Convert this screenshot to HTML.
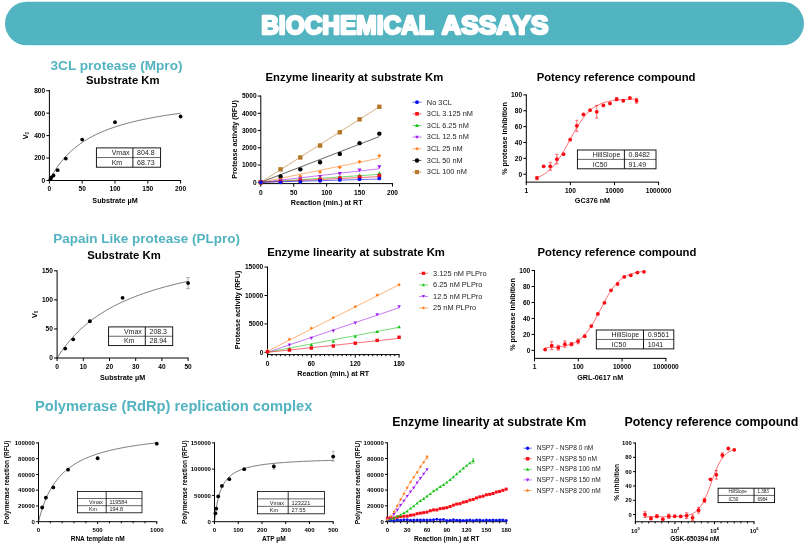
<!DOCTYPE html>
<html><head><meta charset="utf-8"><title>Biochemical assays</title>
<style>html,body{margin:0;padding:0;background:#fff}svg{display:block}text{font-family:"Liberation Sans", Arial, sans-serif}</style></head><body>
<svg width="808" height="549" viewBox="0 0 808 549">
<rect width="808" height="549" fill="#fff"/>
<rect x="5" y="1.7" width="799" height="43.6" rx="21.8" ry="21.8" fill="#52b3c1"/>
<text x="261.2" y="33.5" font-size="25.6" font-weight="bold" text-anchor="start" fill="#fff" stroke="#fff" stroke-width="2.4" stroke-linejoin="round" lengthAdjust="spacingAndGlyphs" textLength="172.6">BIOCHEMICAL</text>
<text x="441.8" y="33.5" font-size="25.6" font-weight="bold" text-anchor="start" fill="#fff" stroke="#fff" stroke-width="2.4" stroke-linejoin="round" lengthAdjust="spacingAndGlyphs" textLength="106.6">ASSAYS</text>
<text x="116.5" y="70.4" font-size="13.6" font-weight="bold" text-anchor="middle" fill="#52b3c1" >3CL protease (Mpro)</text>
<text x="146.7" y="242.7" font-size="13.5" font-weight="bold" text-anchor="middle" fill="#52b3c1" >Papain Like protease (PLpro)</text>
<text x="173.7" y="410.8" font-size="14.7" font-weight="bold" text-anchor="middle" fill="#52b3c1" >Polymerase (RdRp) replication complex</text>
<text x="122.8" y="83.8" font-size="11.3" font-weight="bold" text-anchor="middle" fill="#000" >Substrate Km</text>
<line x1="49.4" y1="90.2" x2="49.4" y2="181" stroke="#000" stroke-width="1.0" />
<line x1="48.9" y1="180.5" x2="181.1" y2="180.5" stroke="#000" stroke-width="1.0" />
<line x1="49.4" y1="180.5" x2="49.4" y2="183.5" stroke="#000" stroke-width="1.0" />
<text x="49.4" y="191.4" font-size="6.6" font-weight="bold" text-anchor="middle" fill="#000" >0</text>
<line x1="82.2" y1="180.5" x2="82.2" y2="183.5" stroke="#000" stroke-width="1.0" />
<text x="82.2" y="191.4" font-size="6.6" font-weight="bold" text-anchor="middle" fill="#000" >50</text>
<line x1="115" y1="180.5" x2="115" y2="183.5" stroke="#000" stroke-width="1.0" />
<text x="115" y="191.4" font-size="6.6" font-weight="bold" text-anchor="middle" fill="#000" >100</text>
<line x1="147.8" y1="180.5" x2="147.8" y2="183.5" stroke="#000" stroke-width="1.0" />
<text x="147.8" y="191.4" font-size="6.6" font-weight="bold" text-anchor="middle" fill="#000" >150</text>
<line x1="180.6" y1="180.5" x2="180.6" y2="183.5" stroke="#000" stroke-width="1.0" />
<text x="180.6" y="191.4" font-size="6.6" font-weight="bold" text-anchor="middle" fill="#000" >200</text>
<line x1="46.4" y1="180.5" x2="49.4" y2="180.5" stroke="#000" stroke-width="1.0" />
<text x="45.2" y="182.88" font-size="6.6" font-weight="bold" text-anchor="end" fill="#000" >0</text>
<line x1="46.4" y1="158.05" x2="49.4" y2="158.05" stroke="#000" stroke-width="1.0" />
<text x="45.2" y="160.43" font-size="6.6" font-weight="bold" text-anchor="end" fill="#000" >200</text>
<line x1="46.4" y1="135.6" x2="49.4" y2="135.6" stroke="#000" stroke-width="1.0" />
<text x="45.2" y="137.98" font-size="6.6" font-weight="bold" text-anchor="end" fill="#000" >400</text>
<line x1="46.4" y1="113.15" x2="49.4" y2="113.15" stroke="#000" stroke-width="1.0" />
<text x="45.2" y="115.53" font-size="6.6" font-weight="bold" text-anchor="end" fill="#000" >600</text>
<line x1="46.4" y1="90.7" x2="49.4" y2="90.7" stroke="#000" stroke-width="1.0" />
<text x="45.2" y="93.08" font-size="6.6" font-weight="bold" text-anchor="end" fill="#000" >800</text>
<text x="115" y="203.3" font-size="7.2" font-weight="bold" text-anchor="middle" fill="#000" >Substrate µM</text>
<text transform="translate(28 135.6) rotate(-90)" font-size="7.2" font-weight="bold" text-anchor="middle" fill="#000" >V<tspan font-size="4.5" dy="1">0</tspan></text>
<polyline fill="none" stroke="#222" stroke-width="0.6" points="49.4,180.5 50.71,177.95 52.02,175.53 53.34,173.25 54.65,171.08 55.96,169.03 57.27,167.07 58.58,165.21 59.9,163.44 61.21,161.75 62.52,160.14 63.83,158.59 65.14,157.12 66.46,155.71 67.77,154.35 69.08,153.05 70.39,151.8 71.7,150.6 73.02,149.45 74.33,148.34 75.64,147.27 76.95,146.23 78.26,145.24 79.58,144.28 80.89,143.35 82.2,142.46 83.51,141.59 84.82,140.75 86.14,139.94 87.45,139.16 88.76,138.39 90.07,137.66 91.38,136.94 92.7,136.25 94.01,135.57 95.32,134.92 96.63,134.28 97.94,133.66 99.26,133.06 100.57,132.48 101.88,131.91 103.19,131.35 104.5,130.81 105.82,130.29 107.13,129.78 108.44,129.28 109.75,128.79 111.06,128.32 112.38,127.85 113.69,127.4 115,126.96 116.31,126.53 117.62,126.11 118.94,125.7 120.25,125.29 121.56,124.9 122.87,124.52 124.18,124.14 125.5,123.77 126.81,123.41 128.12,123.06 129.43,122.71 130.74,122.38 132.06,122.05 133.37,121.72 134.68,121.4 135.99,121.09 137.3,120.79 138.62,120.49 139.93,120.2 141.24,119.91 142.55,119.63 143.86,119.35 145.18,119.08 146.49,118.81 147.8,118.55 149.11,118.29 150.42,118.04 151.74,117.79 153.05,117.55 154.36,117.31 155.67,117.07 156.98,116.84 158.3,116.61 159.61,116.39 160.92,116.17 162.23,115.95 163.54,115.74 164.86,115.53 166.17,115.33 167.48,115.12 168.79,114.92 170.1,114.73 171.42,114.54 172.73,114.35 174.04,114.16 175.35,113.98 176.66,113.79 177.98,113.62 179.29,113.44 180.6,113.27"/>
<circle cx="50.42" cy="179.15" r="1.9" fill="#000"/>
<circle cx="51.45" cy="177.36" r="1.9" fill="#000"/>
<circle cx="53.5" cy="175.45" r="1.9" fill="#000"/>
<circle cx="57.6" cy="170.17" r="1.9" fill="#000"/>
<circle cx="65.8" cy="158.61" r="1.9" fill="#000"/>
<circle cx="82.2" cy="139.53" r="1.9" fill="#000"/>
<circle cx="115" cy="122.13" r="1.9" fill="#000"/>
<circle cx="180.6" cy="116.52" r="1.9" fill="#000"/>
<rect x="96.4" y="147.9" width="64.2" height="19.3" fill="#fff" stroke="#000" stroke-width="0.9"/>
<line x1="132.9" y1="147.9" x2="132.9" y2="167.2" stroke="#000" stroke-width="0.9" />
<line x1="96.4" y1="157.55" x2="160.6" y2="157.55" stroke="#000" stroke-width="0.6" />
<text x="111.7" y="155.25" font-size="7" font-weight="normal" text-anchor="start" fill="#222" >Vmax</text>
<text x="137.1" y="155.25" font-size="7" font-weight="normal" text-anchor="start" fill="#222" >804.8</text>
<text x="111.7" y="164.9" font-size="7" font-weight="normal" text-anchor="start" fill="#222" >Km</text>
<text x="137.1" y="164.9" font-size="7" font-weight="normal" text-anchor="start" fill="#222" >68.73</text>
<text x="354.4" y="80.8" font-size="11.3" font-weight="bold" text-anchor="middle" fill="#000" >Enzyme linearity at substrate Km</text>
<line x1="260.8" y1="95.55" x2="260.8" y2="184.1" stroke="#000" stroke-width="1.0" />
<line x1="260.3" y1="183.6" x2="393" y2="183.6" stroke="#000" stroke-width="1.0" />
<line x1="260.8" y1="183.6" x2="260.8" y2="186.6" stroke="#000" stroke-width="1.0" />
<text x="260.8" y="194.5" font-size="6.6" font-weight="bold" text-anchor="middle" fill="#000" >0</text>
<line x1="293.73" y1="183.6" x2="293.73" y2="186.6" stroke="#000" stroke-width="1.0" />
<text x="293.73" y="194.5" font-size="6.6" font-weight="bold" text-anchor="middle" fill="#000" >50</text>
<line x1="326.65" y1="183.6" x2="326.65" y2="186.6" stroke="#000" stroke-width="1.0" />
<text x="326.65" y="194.5" font-size="6.6" font-weight="bold" text-anchor="middle" fill="#000" >100</text>
<line x1="359.58" y1="183.6" x2="359.58" y2="186.6" stroke="#000" stroke-width="1.0" />
<text x="359.58" y="194.5" font-size="6.6" font-weight="bold" text-anchor="middle" fill="#000" >150</text>
<line x1="392.5" y1="183.6" x2="392.5" y2="186.6" stroke="#000" stroke-width="1.0" />
<text x="392.5" y="194.5" font-size="6.6" font-weight="bold" text-anchor="middle" fill="#000" >200</text>
<line x1="257.8" y1="182.3" x2="260.8" y2="182.3" stroke="#000" stroke-width="1.0" />
<text x="256.6" y="184.68" font-size="6.6" font-weight="bold" text-anchor="end" fill="#000" >0</text>
<line x1="257.8" y1="165.05" x2="260.8" y2="165.05" stroke="#000" stroke-width="1.0" />
<text x="256.6" y="167.43" font-size="6.6" font-weight="bold" text-anchor="end" fill="#000" >1000</text>
<line x1="257.8" y1="147.8" x2="260.8" y2="147.8" stroke="#000" stroke-width="1.0" />
<text x="256.6" y="150.18" font-size="6.6" font-weight="bold" text-anchor="end" fill="#000" >2000</text>
<line x1="257.8" y1="130.55" x2="260.8" y2="130.55" stroke="#000" stroke-width="1.0" />
<text x="256.6" y="132.93" font-size="6.6" font-weight="bold" text-anchor="end" fill="#000" >3000</text>
<line x1="257.8" y1="113.3" x2="260.8" y2="113.3" stroke="#000" stroke-width="1.0" />
<text x="256.6" y="115.68" font-size="6.6" font-weight="bold" text-anchor="end" fill="#000" >4000</text>
<line x1="257.8" y1="96.05" x2="260.8" y2="96.05" stroke="#000" stroke-width="1.0" />
<text x="256.6" y="98.43" font-size="6.6" font-weight="bold" text-anchor="end" fill="#000" >5000</text>
<text x="326.65" y="205" font-size="7.2" font-weight="bold" text-anchor="middle" fill="#000" >Reaction (min.) at RT</text>
<text transform="translate(237.3 139.5) rotate(-90)" font-size="7.2" font-weight="bold" text-anchor="middle" fill="#000" >Protease activity (RFU)</text>
<line x1="260.8" y1="182.3" x2="379.33" y2="106.75" stroke="#b5782a" stroke-width="0.6" />
<line x1="260.8" y1="182.3" x2="379.33" y2="136.59" stroke="#000" stroke-width="0.6" />
<line x1="260.8" y1="182.3" x2="379.33" y2="158.2" stroke="#ff7f1e" stroke-width="0.6" />
<line x1="260.8" y1="182.3" x2="379.33" y2="168.76" stroke="#a020f0" stroke-width="0.6" />
<line x1="260.8" y1="182.3" x2="379.33" y2="174.37" stroke="#16c116" stroke-width="0.6" />
<line x1="260.8" y1="182.3" x2="379.33" y2="176.61" stroke="#f80c16" stroke-width="0.6" />
<line x1="260.8" y1="182.3" x2="379.33" y2="179.02" stroke="#0a10f0" stroke-width="0.6" />
<rect x="258.6" y="180.1" width="4.4" height="4.4" fill="#b5782a"/>
<rect x="278.36" y="167.13" width="4.4" height="4.4" fill="#b5782a"/>
<rect x="298.11" y="155.26" width="4.4" height="4.4" fill="#b5782a"/>
<rect x="317.87" y="143.36" width="4.4" height="4.4" fill="#b5782a"/>
<rect x="337.62" y="130.08" width="4.4" height="4.4" fill="#b5782a"/>
<rect x="357.38" y="117.14" width="4.4" height="4.4" fill="#b5782a"/>
<rect x="377.13" y="104.55" width="4.4" height="4.4" fill="#b5782a"/>
<circle cx="260.8" cy="182.3" r="2.2" fill="#000"/>
<circle cx="280.56" cy="176.57" r="2.2" fill="#000"/>
<circle cx="300.31" cy="169.33" r="2.2" fill="#000"/>
<circle cx="320.06" cy="162.26" r="2.2" fill="#000"/>
<circle cx="339.82" cy="153.92" r="2.2" fill="#000"/>
<circle cx="359.58" cy="143.14" r="2.2" fill="#000"/>
<circle cx="379.33" cy="133.66" r="2.2" fill="#000"/>
<path d="M258.8 181.96L260.8 179.96L262.8 181.96L260.8 183.96Z" fill="#ff7f1e"/>
<path d="M278.56 179.71L280.56 177.71L282.56 179.71L280.56 181.71Z" fill="#ff7f1e"/>
<path d="M298.31 176.19L300.31 174.19L302.31 176.19L300.31 178.19Z" fill="#ff7f1e"/>
<path d="M318.06 172.12L320.06 170.12L322.06 172.12L320.06 174.12Z" fill="#ff7f1e"/>
<path d="M337.82 167.29L339.82 165.29L341.82 167.29L339.82 169.29Z" fill="#ff7f1e"/>
<path d="M357.58 161.72L359.58 159.72L361.58 161.72L359.58 163.72Z" fill="#ff7f1e"/>
<path d="M377.33 155.77L379.33 153.77L381.33 155.77L379.33 157.77Z" fill="#ff7f1e"/>
<path d="M258.7 180.45L262.9 180.45L260.8 184.23Z" fill="#a020f0"/>
<path d="M278.45 179.07L282.66 179.07L280.56 182.85Z" fill="#a020f0"/>
<path d="M298.21 177.17L302.41 177.17L300.31 180.95Z" fill="#a020f0"/>
<path d="M317.96 174.89L322.17 174.89L320.06 178.67Z" fill="#a020f0"/>
<path d="M337.72 172.1L341.92 172.1L339.82 175.88Z" fill="#a020f0"/>
<path d="M357.48 168.58L361.68 168.58L359.58 172.36Z" fill="#a020f0"/>
<path d="M377.23 165.23L381.43 165.23L379.33 169.01Z" fill="#a020f0"/>
<path d="M258.7 183.81L262.9 183.81L260.8 180.03Z" fill="#16c116"/>
<path d="M278.45 182.95L282.66 182.95L280.56 179.17Z" fill="#16c116"/>
<path d="M298.21 181.74L302.41 181.74L300.31 177.96Z" fill="#16c116"/>
<path d="M317.96 180.19L322.17 180.19L320.06 176.41Z" fill="#16c116"/>
<path d="M337.72 178.81L341.92 178.81L339.82 175.03Z" fill="#16c116"/>
<path d="M357.48 176.94L361.68 176.94L359.58 173.16Z" fill="#16c116"/>
<path d="M377.23 175.1L381.43 175.1L379.33 171.32Z" fill="#16c116"/>
<rect x="258.9" y="180.4" width="3.8" height="3.8" fill="#f80c16"/>
<rect x="278.66" y="179.71" width="3.8" height="3.8" fill="#f80c16"/>
<rect x="298.41" y="178.68" width="3.8" height="3.8" fill="#f80c16"/>
<rect x="318.17" y="177.64" width="3.8" height="3.8" fill="#f80c16"/>
<rect x="337.92" y="176.43" width="3.8" height="3.8" fill="#f80c16"/>
<rect x="357.68" y="175.22" width="3.8" height="3.8" fill="#f80c16"/>
<rect x="377.43" y="173.74" width="3.8" height="3.8" fill="#f80c16"/>
<circle cx="260.8" cy="182.3" r="1.9" fill="#0a10f0"/>
<circle cx="280.56" cy="182.3" r="1.9" fill="#0a10f0"/>
<circle cx="300.31" cy="181.78" r="1.9" fill="#0a10f0"/>
<circle cx="320.06" cy="180.75" r="1.9" fill="#0a10f0"/>
<circle cx="339.82" cy="179.89" r="1.9" fill="#0a10f0"/>
<circle cx="359.58" cy="179.37" r="1.9" fill="#0a10f0"/>
<circle cx="379.33" cy="178.42" r="1.9" fill="#0a10f0"/>
<line x1="412.4" y1="102.2" x2="421.6" y2="102.2" stroke="#0a10f0" stroke-width="0.6" />
<circle cx="417" cy="102.2" r="1.9" fill="#0a10f0"/>
<text x="426.8" y="104.5" font-size="7.4" font-weight="normal" text-anchor="start" fill="#222" >No 3CL</text>
<line x1="412.4" y1="113.85" x2="421.6" y2="113.85" stroke="#f80c16" stroke-width="0.6" />
<rect x="415.2" y="112.05" width="3.6" height="3.6" fill="#f80c16"/>
<text x="426.8" y="116.15" font-size="7.4" font-weight="normal" text-anchor="start" fill="#222" >3CL 3.125 nM</text>
<line x1="412.4" y1="125.5" x2="421.6" y2="125.5" stroke="#16c116" stroke-width="0.6" />
<path d="M415 127.1L419 127.1L417 123.5Z" fill="#16c116"/>
<text x="426.8" y="127.8" font-size="7.4" font-weight="normal" text-anchor="start" fill="#222" >3CL 6.25 nM</text>
<line x1="412.4" y1="137.15" x2="421.6" y2="137.15" stroke="#a020f0" stroke-width="0.6" />
<path d="M415.1 135.63L418.9 135.63L417 139.05Z" fill="#a020f0"/>
<text x="426.8" y="139.45" font-size="7.4" font-weight="normal" text-anchor="start" fill="#222" >3CL 12.5 nM</text>
<line x1="412.4" y1="148.8" x2="421.6" y2="148.8" stroke="#ff7f1e" stroke-width="0.6" />
<path d="M415.2 148.8L417 147L418.8 148.8L417 150.6Z" fill="#ff7f1e"/>
<text x="426.8" y="151.1" font-size="7.4" font-weight="normal" text-anchor="start" fill="#222" >3CL 25 nM</text>
<line x1="412.4" y1="160.45" x2="421.6" y2="160.45" stroke="#000" stroke-width="0.6" />
<circle cx="417" cy="160.45" r="2.2" fill="#000"/>
<text x="426.8" y="162.75" font-size="7.4" font-weight="normal" text-anchor="start" fill="#222" >3CL 50 nM</text>
<line x1="412.4" y1="172.1" x2="421.6" y2="172.1" stroke="#b5782a" stroke-width="0.6" />
<rect x="414.9" y="170" width="4.2" height="4.2" fill="#b5782a"/>
<text x="426.8" y="174.4" font-size="7.4" font-weight="normal" text-anchor="start" fill="#222" >3CL 100 nM</text>
<text x="616.1" y="80.9" font-size="11.3" font-weight="bold" text-anchor="middle" fill="#000" >Potency reference compound</text>
<line x1="526.3" y1="94.4" x2="526.3" y2="182.63" stroke="#000" stroke-width="1.0" />
<line x1="525.8" y1="182.13" x2="659.1" y2="182.13" stroke="#000" stroke-width="1.0" />
<line x1="526.3" y1="182.13" x2="526.3" y2="185.13" stroke="#000" stroke-width="1.0" />
<text x="526.3" y="193.03" font-size="6.6" font-weight="bold" text-anchor="middle" fill="#000" >1</text>
<line x1="570.4" y1="182.13" x2="570.4" y2="185.13" stroke="#000" stroke-width="1.0" />
<text x="570.4" y="193.03" font-size="6.6" font-weight="bold" text-anchor="middle" fill="#000" >100</text>
<line x1="614.5" y1="182.13" x2="614.5" y2="185.13" stroke="#000" stroke-width="1.0" />
<text x="614.5" y="193.03" font-size="6.6" font-weight="bold" text-anchor="middle" fill="#000" >10000</text>
<line x1="658.6" y1="182.13" x2="658.6" y2="185.13" stroke="#000" stroke-width="1.0" />
<text x="658.6" y="193.03" font-size="6.6" font-weight="bold" text-anchor="middle" fill="#000" >1000000</text>
<line x1="523.3" y1="174.2" x2="526.3" y2="174.2" stroke="#000" stroke-width="1.0" />
<text x="522.1" y="176.58" font-size="6.6" font-weight="bold" text-anchor="end" fill="#000" >0</text>
<line x1="523.3" y1="158.34" x2="526.3" y2="158.34" stroke="#000" stroke-width="1.0" />
<text x="522.1" y="160.72" font-size="6.6" font-weight="bold" text-anchor="end" fill="#000" >20</text>
<line x1="523.3" y1="142.48" x2="526.3" y2="142.48" stroke="#000" stroke-width="1.0" />
<text x="522.1" y="144.86" font-size="6.6" font-weight="bold" text-anchor="end" fill="#000" >40</text>
<line x1="523.3" y1="126.62" x2="526.3" y2="126.62" stroke="#000" stroke-width="1.0" />
<text x="522.1" y="129" font-size="6.6" font-weight="bold" text-anchor="end" fill="#000" >60</text>
<line x1="523.3" y1="110.76" x2="526.3" y2="110.76" stroke="#000" stroke-width="1.0" />
<text x="522.1" y="113.14" font-size="6.6" font-weight="bold" text-anchor="end" fill="#000" >80</text>
<line x1="523.3" y1="94.9" x2="526.3" y2="94.9" stroke="#000" stroke-width="1.0" />
<text x="522.1" y="97.28" font-size="6.6" font-weight="bold" text-anchor="end" fill="#000" >100</text>
<text x="592.45" y="203.2" font-size="7.2" font-weight="bold" text-anchor="middle" fill="#000" >GC376 nM</text>
<text transform="translate(507.4 138.51) rotate(-90)" font-size="7.2" font-weight="bold" text-anchor="middle" fill="#000" >% protease inhibition</text>
<polyline fill="none" stroke="#f90a12" stroke-width="0.6" points="536.98,177.72 537.81,177.41 538.64,177.07 539.47,176.71 540.3,176.32 541.13,175.91 541.96,175.48 542.79,175.01 543.62,174.52 544.45,173.99 545.28,173.44 546.11,172.85 546.94,172.23 547.77,171.57 548.6,170.87 549.43,170.13 550.26,169.36 551.09,168.55 551.92,167.69 552.75,166.79 553.58,165.85 554.41,164.87 555.24,163.84 556.07,162.77 556.9,161.65 557.73,160.5 558.56,159.3 559.39,158.06 560.22,156.79 561.05,155.47 561.88,154.12 562.71,152.74 563.54,151.33 564.36,149.89 565.19,148.43 566.02,146.94 566.85,145.44 567.68,143.93 568.51,142.4 569.34,140.88 570.17,139.35 571,137.82 571.83,136.3 572.66,134.79 573.49,133.3 574.32,131.83 575.15,130.37 575.98,128.95 576.81,127.55 577.64,126.19 578.47,124.85 579.3,123.56 580.13,122.3 580.96,121.08 581.79,119.91 582.62,118.77 583.45,117.68 584.28,116.63 585.11,115.63 585.94,114.66 586.77,113.74 587.6,112.87 588.43,112.03 589.26,111.24 590.09,110.48 590.92,109.77 591.75,109.09 592.58,108.45 593.4,107.84 594.23,107.27 595.06,106.73 595.89,106.22 596.72,105.75 597.55,105.3 598.38,104.87 599.21,104.48 600.04,104.1 600.87,103.75 601.7,103.43 602.53,103.12 603.36,102.83 604.19,102.56 605.02,102.31 605.85,102.08 606.68,101.86 607.51,101.65 608.34,101.46 609.17,101.28 610,101.12 610.83,100.96 611.66,100.82 612.49,100.68 613.32,100.55 614.15,100.44 614.98,100.33 615.81,100.23 616.64,100.13 617.47,100.04 618.3,99.96 619.13,99.88 619.96,99.81 620.79,99.75 621.62,99.68 622.44,99.63 623.27,99.57 624.1,99.52 624.93,99.48 625.76,99.43 626.59,99.39 627.42,99.36 628.25,99.32 629.08,99.29 629.91,99.26 630.74,99.23 631.57,99.21 632.4,99.18 633.23,99.16 634.06,99.14 634.89,99.12 635.72,99.1 636.55,99.08"/>
<line x1="536.98" y1="179.67" x2="536.98" y2="176.5" stroke="#f90a12" stroke-width="0.6" />
<line x1="535.38" y1="179.67" x2="538.58" y2="179.67" stroke="#f90a12" stroke-width="0.6" />
<line x1="535.38" y1="176.5" x2="538.58" y2="176.5" stroke="#f90a12" stroke-width="0.6" />
<circle cx="536.98" cy="178.09" r="1.9" fill="#f90a12"/>
<circle cx="543.62" cy="166.35" r="1.9" fill="#f90a12"/>
<line x1="550.26" y1="170.31" x2="550.26" y2="162.38" stroke="#f90a12" stroke-width="0.6" />
<line x1="548.66" y1="170.31" x2="551.86" y2="170.31" stroke="#f90a12" stroke-width="0.6" />
<line x1="548.66" y1="162.38" x2="551.86" y2="162.38" stroke="#f90a12" stroke-width="0.6" />
<circle cx="550.26" cy="166.35" r="1.9" fill="#f90a12"/>
<line x1="556.9" y1="163.97" x2="556.9" y2="154.45" stroke="#f90a12" stroke-width="0.6" />
<line x1="555.3" y1="163.97" x2="558.5" y2="163.97" stroke="#f90a12" stroke-width="0.6" />
<line x1="555.3" y1="154.45" x2="558.5" y2="154.45" stroke="#f90a12" stroke-width="0.6" />
<circle cx="556.9" cy="159.21" r="1.9" fill="#f90a12"/>
<circle cx="563.54" cy="154.14" r="1.9" fill="#f90a12"/>
<circle cx="570.17" cy="139.63" r="1.9" fill="#f90a12"/>
<line x1="576.81" y1="131.38" x2="576.81" y2="120.28" stroke="#f90a12" stroke-width="0.6" />
<line x1="575.21" y1="131.38" x2="578.41" y2="131.38" stroke="#f90a12" stroke-width="0.6" />
<line x1="575.21" y1="120.28" x2="578.41" y2="120.28" stroke="#f90a12" stroke-width="0.6" />
<circle cx="576.81" cy="125.83" r="1.9" fill="#f90a12"/>
<circle cx="583.45" cy="114.49" r="1.9" fill="#f90a12"/>
<circle cx="590.09" cy="110.13" r="1.9" fill="#f90a12"/>
<line x1="596.72" y1="118.13" x2="596.72" y2="105.45" stroke="#f90a12" stroke-width="0.6" />
<line x1="595.12" y1="118.13" x2="598.32" y2="118.13" stroke="#f90a12" stroke-width="0.6" />
<line x1="595.12" y1="105.45" x2="598.32" y2="105.45" stroke="#f90a12" stroke-width="0.6" />
<circle cx="596.72" cy="111.79" r="1.9" fill="#f90a12"/>
<circle cx="603.36" cy="105.45" r="1.9" fill="#f90a12"/>
<circle cx="610" cy="103.46" r="1.9" fill="#f90a12"/>
<line x1="616.64" y1="100.77" x2="616.64" y2="97.6" stroke="#f90a12" stroke-width="0.6" />
<line x1="615.04" y1="100.77" x2="618.24" y2="100.77" stroke="#f90a12" stroke-width="0.6" />
<line x1="615.04" y1="97.6" x2="618.24" y2="97.6" stroke="#f90a12" stroke-width="0.6" />
<circle cx="616.64" cy="99.18" r="1.9" fill="#f90a12"/>
<circle cx="623.27" cy="100.77" r="1.9" fill="#f90a12"/>
<circle cx="629.91" cy="97.99" r="1.9" fill="#f90a12"/>
<line x1="636.55" y1="103.15" x2="636.55" y2="98.39" stroke="#f90a12" stroke-width="0.6" />
<line x1="634.95" y1="103.15" x2="638.15" y2="103.15" stroke="#f90a12" stroke-width="0.6" />
<line x1="634.95" y1="98.39" x2="638.15" y2="98.39" stroke="#f90a12" stroke-width="0.6" />
<circle cx="636.55" cy="100.77" r="1.9" fill="#f90a12"/>
<rect x="577.4" y="150" width="78.6" height="18.8" fill="#fff" stroke="#000" stroke-width="0.9"/>
<line x1="624.4" y1="150" x2="624.4" y2="168.8" stroke="#000" stroke-width="0.9" />
<line x1="577.4" y1="159.4" x2="656" y2="159.4" stroke="#000" stroke-width="0.6" />
<text x="592.7" y="157.22" font-size="7" font-weight="normal" text-anchor="start" fill="#222" >HillSlope</text>
<text x="628.6" y="157.22" font-size="7" font-weight="normal" text-anchor="start" fill="#222" >0.8482</text>
<text x="592.7" y="166.62" font-size="7" font-weight="normal" text-anchor="start" fill="#222" >IC50</text>
<text x="628.6" y="166.62" font-size="7" font-weight="normal" text-anchor="start" fill="#222" >91.49</text>
<text x="124" y="258.5" font-size="11.3" font-weight="bold" text-anchor="middle" fill="#000" >Substrate Km</text>
<line x1="57.1" y1="270.29" x2="57.1" y2="358.5" stroke="#000" stroke-width="1.0" />
<line x1="56.6" y1="358" x2="188.6" y2="358" stroke="#000" stroke-width="1.0" />
<line x1="57.1" y1="358" x2="57.1" y2="361" stroke="#000" stroke-width="1.0" />
<text x="57.1" y="368.9" font-size="6.6" font-weight="bold" text-anchor="middle" fill="#000" >0</text>
<line x1="83.3" y1="358" x2="83.3" y2="361" stroke="#000" stroke-width="1.0" />
<text x="83.3" y="368.9" font-size="6.6" font-weight="bold" text-anchor="middle" fill="#000" >10</text>
<line x1="109.5" y1="358" x2="109.5" y2="361" stroke="#000" stroke-width="1.0" />
<text x="109.5" y="368.9" font-size="6.6" font-weight="bold" text-anchor="middle" fill="#000" >20</text>
<line x1="135.7" y1="358" x2="135.7" y2="361" stroke="#000" stroke-width="1.0" />
<text x="135.7" y="368.9" font-size="6.6" font-weight="bold" text-anchor="middle" fill="#000" >30</text>
<line x1="161.9" y1="358" x2="161.9" y2="361" stroke="#000" stroke-width="1.0" />
<text x="161.9" y="368.9" font-size="6.6" font-weight="bold" text-anchor="middle" fill="#000" >40</text>
<line x1="188.1" y1="358" x2="188.1" y2="361" stroke="#000" stroke-width="1.0" />
<text x="188.1" y="368.9" font-size="6.6" font-weight="bold" text-anchor="middle" fill="#000" >50</text>
<line x1="54.1" y1="358" x2="57.1" y2="358" stroke="#000" stroke-width="1.0" />
<text x="52.9" y="360.38" font-size="6.6" font-weight="bold" text-anchor="end" fill="#000" >0</text>
<line x1="54.1" y1="328.93" x2="57.1" y2="328.93" stroke="#000" stroke-width="1.0" />
<text x="52.9" y="331.31" font-size="6.6" font-weight="bold" text-anchor="end" fill="#000" >50</text>
<line x1="54.1" y1="299.86" x2="57.1" y2="299.86" stroke="#000" stroke-width="1.0" />
<text x="52.9" y="302.24" font-size="6.6" font-weight="bold" text-anchor="end" fill="#000" >100</text>
<line x1="54.1" y1="270.79" x2="57.1" y2="270.79" stroke="#000" stroke-width="1.0" />
<text x="52.9" y="273.17" font-size="6.6" font-weight="bold" text-anchor="end" fill="#000" >150</text>
<text x="122.6" y="379.6" font-size="7.2" font-weight="bold" text-anchor="middle" fill="#000" >Substrate µM</text>
<text transform="translate(37 314.39) rotate(-90)" font-size="7.2" font-weight="bold" text-anchor="middle" fill="#000" >V<tspan font-size="4.5" dy="1">0</tspan></text>
<polyline fill="none" stroke="#222" stroke-width="0.6" points="57.1,358 58.41,355.94 59.72,353.96 61.03,352.03 62.34,350.17 63.65,348.37 64.96,346.63 66.27,344.93 67.58,343.29 68.89,341.7 70.2,340.16 71.51,338.66 72.82,337.2 74.13,335.79 75.44,334.41 76.75,333.07 78.06,331.77 79.37,330.51 80.68,329.27 81.99,328.07 83.3,326.9 84.61,325.76 85.92,324.65 87.23,323.56 88.54,322.5 89.85,321.47 91.16,320.46 92.47,319.48 93.78,318.52 95.09,317.58 96.4,316.66 97.71,315.76 99.02,314.88 100.33,314.02 101.64,313.19 102.95,312.36 104.26,311.56 105.57,310.77 106.88,310 108.19,309.25 109.5,308.51 110.81,307.78 112.12,307.07 113.43,306.38 114.74,305.7 116.05,305.03 117.36,304.37 118.67,303.73 119.98,303.1 121.29,302.48 122.6,301.87 123.91,301.27 125.22,300.69 126.53,300.11 127.84,299.55 129.15,298.99 130.46,298.45 131.77,297.91 133.08,297.38 134.39,296.87 135.7,296.36 137.01,295.86 138.32,295.37 139.63,294.88 140.94,294.41 142.25,293.94 143.56,293.48 144.87,293.03 146.18,292.58 147.49,292.14 148.8,291.71 150.11,291.28 151.42,290.86 152.73,290.45 154.04,290.05 155.35,289.65 156.66,289.25 157.97,288.86 159.28,288.48 160.59,288.1 161.9,287.73 163.21,287.37 164.52,287.01 165.83,286.65 167.14,286.3 168.45,285.95 169.76,285.61 171.07,285.28 172.38,284.94 173.69,284.62 175,284.29 176.31,283.98 177.62,283.66 178.93,283.35 180.24,283.05 181.55,282.74 182.86,282.45 184.17,282.15 185.48,281.86 186.79,281.58 188.1,281.29"/>
<line x1="188.1" y1="288.64" x2="188.1" y2="277.59" stroke="#888" stroke-width="0.7" />
<line x1="186.3" y1="288.64" x2="189.9" y2="288.64" stroke="#888" stroke-width="0.7" />
<line x1="186.3" y1="277.59" x2="189.9" y2="277.59" stroke="#888" stroke-width="0.7" />
<circle cx="65.22" cy="348.58" r="1.9" fill="#000"/>
<circle cx="73.21" cy="339.28" r="1.9" fill="#000"/>
<circle cx="89.85" cy="321.26" r="1.9" fill="#000"/>
<circle cx="122.6" cy="297.83" r="1.9" fill="#000"/>
<circle cx="188.1" cy="283.12" r="1.9" fill="#000"/>
<rect x="108.6" y="326.9" width="64.1" height="18.7" fill="#fff" stroke="#000" stroke-width="0.9"/>
<line x1="145.3" y1="326.9" x2="145.3" y2="345.6" stroke="#000" stroke-width="0.9" />
<line x1="108.6" y1="336.25" x2="172.7" y2="336.25" stroke="#000" stroke-width="0.6" />
<text x="123.9" y="334.09" font-size="7" font-weight="normal" text-anchor="start" fill="#222" >Vmax</text>
<text x="149.5" y="334.09" font-size="7" font-weight="normal" text-anchor="start" fill="#222" >208.3</text>
<text x="123.9" y="343.44" font-size="7" font-weight="normal" text-anchor="start" fill="#222" >Km</text>
<text x="149.5" y="343.44" font-size="7" font-weight="normal" text-anchor="start" fill="#222" >28.94</text>
<text x="356" y="256.2" font-size="11.3" font-weight="bold" text-anchor="middle" fill="#000" >Enzyme linearity at substrate Km</text>
<line x1="267.5" y1="266.6" x2="267.5" y2="355.1" stroke="#000" stroke-width="1.0" />
<line x1="267" y1="354.6" x2="399.6" y2="354.6" stroke="#000" stroke-width="1.0" />
<line x1="267.5" y1="354.6" x2="267.5" y2="357.6" stroke="#000" stroke-width="1.0" />
<text x="267.5" y="365.5" font-size="6.6" font-weight="bold" text-anchor="middle" fill="#000" >0</text>
<line x1="311.37" y1="354.6" x2="311.37" y2="357.6" stroke="#000" stroke-width="1.0" />
<text x="311.37" y="365.5" font-size="6.6" font-weight="bold" text-anchor="middle" fill="#000" >60</text>
<line x1="355.23" y1="354.6" x2="355.23" y2="357.6" stroke="#000" stroke-width="1.0" />
<text x="355.23" y="365.5" font-size="6.6" font-weight="bold" text-anchor="middle" fill="#000" >120</text>
<line x1="399.1" y1="354.6" x2="399.1" y2="357.6" stroke="#000" stroke-width="1.0" />
<text x="399.1" y="365.5" font-size="6.6" font-weight="bold" text-anchor="middle" fill="#000" >180</text>
<line x1="271.89" y1="354.6" x2="271.89" y2="356.2" stroke="#000" stroke-width="1" />
<line x1="276.27" y1="354.6" x2="276.27" y2="356.2" stroke="#000" stroke-width="1" />
<line x1="280.66" y1="354.6" x2="280.66" y2="356.2" stroke="#000" stroke-width="1" />
<line x1="285.05" y1="354.6" x2="285.05" y2="356.2" stroke="#000" stroke-width="1" />
<line x1="289.43" y1="354.6" x2="289.43" y2="356.2" stroke="#000" stroke-width="1" />
<line x1="293.82" y1="354.6" x2="293.82" y2="356.2" stroke="#000" stroke-width="1" />
<line x1="298.21" y1="354.6" x2="298.21" y2="356.2" stroke="#000" stroke-width="1" />
<line x1="302.59" y1="354.6" x2="302.59" y2="356.2" stroke="#000" stroke-width="1" />
<line x1="306.98" y1="354.6" x2="306.98" y2="356.2" stroke="#000" stroke-width="1" />
<line x1="315.75" y1="354.6" x2="315.75" y2="356.2" stroke="#000" stroke-width="1" />
<line x1="320.14" y1="354.6" x2="320.14" y2="356.2" stroke="#000" stroke-width="1" />
<line x1="324.53" y1="354.6" x2="324.53" y2="356.2" stroke="#000" stroke-width="1" />
<line x1="328.91" y1="354.6" x2="328.91" y2="356.2" stroke="#000" stroke-width="1" />
<line x1="333.3" y1="354.6" x2="333.3" y2="356.2" stroke="#000" stroke-width="1" />
<line x1="337.69" y1="354.6" x2="337.69" y2="356.2" stroke="#000" stroke-width="1" />
<line x1="342.07" y1="354.6" x2="342.07" y2="356.2" stroke="#000" stroke-width="1" />
<line x1="346.46" y1="354.6" x2="346.46" y2="356.2" stroke="#000" stroke-width="1" />
<line x1="350.85" y1="354.6" x2="350.85" y2="356.2" stroke="#000" stroke-width="1" />
<line x1="359.62" y1="354.6" x2="359.62" y2="356.2" stroke="#000" stroke-width="1" />
<line x1="364.01" y1="354.6" x2="364.01" y2="356.2" stroke="#000" stroke-width="1" />
<line x1="368.39" y1="354.6" x2="368.39" y2="356.2" stroke="#000" stroke-width="1" />
<line x1="372.78" y1="354.6" x2="372.78" y2="356.2" stroke="#000" stroke-width="1" />
<line x1="377.17" y1="354.6" x2="377.17" y2="356.2" stroke="#000" stroke-width="1" />
<line x1="381.55" y1="354.6" x2="381.55" y2="356.2" stroke="#000" stroke-width="1" />
<line x1="385.94" y1="354.6" x2="385.94" y2="356.2" stroke="#000" stroke-width="1" />
<line x1="390.33" y1="354.6" x2="390.33" y2="356.2" stroke="#000" stroke-width="1" />
<line x1="394.71" y1="354.6" x2="394.71" y2="356.2" stroke="#000" stroke-width="1" />
<line x1="264.5" y1="352.3" x2="267.5" y2="352.3" stroke="#000" stroke-width="1.0" />
<text x="263.3" y="354.68" font-size="6.6" font-weight="bold" text-anchor="end" fill="#000" >0</text>
<line x1="264.5" y1="323.9" x2="267.5" y2="323.9" stroke="#000" stroke-width="1.0" />
<text x="263.3" y="326.28" font-size="6.6" font-weight="bold" text-anchor="end" fill="#000" >5000</text>
<line x1="264.5" y1="295.5" x2="267.5" y2="295.5" stroke="#000" stroke-width="1.0" />
<text x="263.3" y="297.88" font-size="6.6" font-weight="bold" text-anchor="end" fill="#000" >10000</text>
<line x1="264.5" y1="267.1" x2="267.5" y2="267.1" stroke="#000" stroke-width="1.0" />
<text x="263.3" y="269.48" font-size="6.6" font-weight="bold" text-anchor="end" fill="#000" >15000</text>
<text x="333.3" y="375.6" font-size="7.2" font-weight="bold" text-anchor="middle" fill="#000" >Reaction (min.) at RT</text>
<text transform="translate(240.4 310) rotate(-90)" font-size="7.2" font-weight="bold" text-anchor="middle" fill="#000" >Protease activity (RFU)</text>
<line x1="267.5" y1="351.16" x2="399.1" y2="284.71" stroke="#ff7f1e" stroke-width="0.6" />
<line x1="267.5" y1="352.3" x2="399.1" y2="307.71" stroke="#a020f0" stroke-width="0.6" />
<line x1="267.5" y1="352.3" x2="399.1" y2="327.31" stroke="#16c116" stroke-width="0.6" />
<line x1="267.5" y1="352.3" x2="399.1" y2="338.38" stroke="#f80c16" stroke-width="0.6" />
<path d="M265.8 350.6L267.5 348.9L269.2 350.6L267.5 352.3Z" fill="#ff7f1e"/>
<path d="M287.73 339.24L289.43 337.54L291.13 339.24L289.43 340.94Z" fill="#ff7f1e"/>
<path d="M309.67 328.16L311.37 326.46L313.07 328.16L311.37 329.86Z" fill="#ff7f1e"/>
<path d="M331.6 317.65L333.3 315.95L335 317.65L333.3 319.35Z" fill="#ff7f1e"/>
<path d="M353.53 306.58L355.23 304.88L356.93 306.58L355.23 308.28Z" fill="#ff7f1e"/>
<path d="M375.47 294.93L377.17 293.23L378.87 294.93L377.17 296.63Z" fill="#ff7f1e"/>
<path d="M397.4 284.71L399.1 283.01L400.8 284.71L399.1 286.41Z" fill="#ff7f1e"/>
<path d="M265.7 350.01L269.3 350.01L267.5 353.25Z" fill="#a020f0"/>
<path d="M287.63 343.48L291.23 343.48L289.43 346.72Z" fill="#a020f0"/>
<path d="M309.57 336.66L313.17 336.66L311.37 339.9Z" fill="#a020f0"/>
<path d="M331.5 329.56L335.1 329.56L333.3 332.8Z" fill="#a020f0"/>
<path d="M353.43 321.61L357.03 321.61L355.23 324.85Z" fill="#a020f0"/>
<path d="M375.37 313.37L378.97 313.37L377.17 316.61Z" fill="#a020f0"/>
<path d="M397.3 305.14L400.9 305.14L399.1 308.38Z" fill="#a020f0"/>
<path d="M265.7 353.17L269.3 353.17L267.5 349.93Z" fill="#16c116"/>
<path d="M287.63 350.33L291.23 350.33L289.43 347.09Z" fill="#16c116"/>
<path d="M309.57 346.36L313.17 346.36L311.37 343.12Z" fill="#16c116"/>
<path d="M331.5 342.66L335.1 342.66L333.3 339.42Z" fill="#16c116"/>
<path d="M353.43 337.84L357.03 337.84L355.23 334.6Z" fill="#16c116"/>
<path d="M375.37 333.01L378.97 333.01L377.17 329.77Z" fill="#16c116"/>
<path d="M397.3 328.18L400.9 328.18L399.1 324.94Z" fill="#16c116"/>
<rect x="265.8" y="350.03" width="3.4" height="3.4" fill="#f80c16"/>
<rect x="287.73" y="348.33" width="3.4" height="3.4" fill="#f80c16"/>
<rect x="309.67" y="346.34" width="3.4" height="3.4" fill="#f80c16"/>
<rect x="331.6" y="344.35" width="3.4" height="3.4" fill="#f80c16"/>
<rect x="353.53" y="341.51" width="3.4" height="3.4" fill="#f80c16"/>
<rect x="375.47" y="338.67" width="3.4" height="3.4" fill="#f80c16"/>
<rect x="397.4" y="335.55" width="3.4" height="3.4" fill="#f80c16"/>
<line x1="419" y1="273.3" x2="428" y2="273.3" stroke="#f80c16" stroke-width="0.6" />
<rect x="421.9" y="271.7" width="3.2" height="3.2" fill="#f80c16"/>
<text x="433.1" y="275.6" font-size="7.4" font-weight="normal" text-anchor="start" fill="#222" >3.125 nM PLPro</text>
<line x1="419" y1="284.85" x2="428" y2="284.85" stroke="#16c116" stroke-width="0.6" />
<path d="M421.9 286.13L425.1 286.13L423.5 283.25Z" fill="#16c116"/>
<text x="433.1" y="287.15" font-size="7.4" font-weight="normal" text-anchor="start" fill="#222" >6.25 nM PLPro</text>
<line x1="419" y1="296.4" x2="428" y2="296.4" stroke="#a020f0" stroke-width="0.6" />
<path d="M421.9 295.12L425.1 295.12L423.5 298Z" fill="#a020f0"/>
<text x="433.1" y="298.7" font-size="7.4" font-weight="normal" text-anchor="start" fill="#222" >12.5 nM PLPro</text>
<line x1="419" y1="307.95" x2="428" y2="307.95" stroke="#ff7f1e" stroke-width="0.6" />
<path d="M421.9 307.95L423.5 306.35L425.1 307.95L423.5 309.55Z" fill="#ff7f1e"/>
<text x="433.1" y="310.25" font-size="7.4" font-weight="normal" text-anchor="start" fill="#222" >25 nM PLPro</text>
<text x="617" y="256.4" font-size="11.3" font-weight="bold" text-anchor="middle" fill="#000" >Potency reference compound</text>
<line x1="534.5" y1="270" x2="534.5" y2="358.89" stroke="#000" stroke-width="1.0" />
<line x1="534" y1="358.39" x2="666.4" y2="358.39" stroke="#000" stroke-width="1.0" />
<line x1="534.5" y1="358.39" x2="534.5" y2="361.39" stroke="#000" stroke-width="1.0" />
<text x="534.5" y="369.29" font-size="6.6" font-weight="bold" text-anchor="middle" fill="#000" >1</text>
<line x1="578.3" y1="358.39" x2="578.3" y2="361.39" stroke="#000" stroke-width="1.0" />
<text x="578.3" y="369.29" font-size="6.6" font-weight="bold" text-anchor="middle" fill="#000" >100</text>
<line x1="622.1" y1="358.39" x2="622.1" y2="361.39" stroke="#000" stroke-width="1.0" />
<text x="622.1" y="369.29" font-size="6.6" font-weight="bold" text-anchor="middle" fill="#000" >10000</text>
<line x1="665.9" y1="358.39" x2="665.9" y2="361.39" stroke="#000" stroke-width="1.0" />
<text x="665.9" y="369.29" font-size="6.6" font-weight="bold" text-anchor="middle" fill="#000" >1000000</text>
<line x1="531.5" y1="350.4" x2="534.5" y2="350.4" stroke="#000" stroke-width="1.0" />
<text x="530.3" y="352.78" font-size="6.6" font-weight="bold" text-anchor="end" fill="#000" >0</text>
<line x1="531.5" y1="334.42" x2="534.5" y2="334.42" stroke="#000" stroke-width="1.0" />
<text x="530.3" y="336.8" font-size="6.6" font-weight="bold" text-anchor="end" fill="#000" >20</text>
<line x1="531.5" y1="318.44" x2="534.5" y2="318.44" stroke="#000" stroke-width="1.0" />
<text x="530.3" y="320.82" font-size="6.6" font-weight="bold" text-anchor="end" fill="#000" >40</text>
<line x1="531.5" y1="302.46" x2="534.5" y2="302.46" stroke="#000" stroke-width="1.0" />
<text x="530.3" y="304.84" font-size="6.6" font-weight="bold" text-anchor="end" fill="#000" >60</text>
<line x1="531.5" y1="286.48" x2="534.5" y2="286.48" stroke="#000" stroke-width="1.0" />
<text x="530.3" y="288.86" font-size="6.6" font-weight="bold" text-anchor="end" fill="#000" >80</text>
<line x1="531.5" y1="270.5" x2="534.5" y2="270.5" stroke="#000" stroke-width="1.0" />
<text x="530.3" y="272.88" font-size="6.6" font-weight="bold" text-anchor="end" fill="#000" >100</text>
<text x="600.2" y="380.2" font-size="7.2" font-weight="bold" text-anchor="middle" fill="#000" >GRL-0617 nM</text>
<text transform="translate(514.6 314.44) rotate(-90)" font-size="7.2" font-weight="bold" text-anchor="middle" fill="#000" >% protease inhibition</text>
<polyline fill="none" stroke="#f90a12" stroke-width="0.6" points="545.11,347.71 545.94,347.69 546.76,347.66 547.58,347.63 548.41,347.6 549.23,347.56 550.06,347.52 550.88,347.48 551.7,347.44 552.53,347.39 553.35,347.34 554.18,347.28 555,347.22 555.82,347.15 556.65,347.08 557.47,347 558.3,346.91 559.12,346.82 559.94,346.72 560.77,346.61 561.59,346.49 562.42,346.37 563.24,346.23 564.07,346.08 564.89,345.92 565.71,345.74 566.54,345.55 567.36,345.35 568.19,345.13 569.01,344.89 569.83,344.63 570.66,344.36 571.48,344.06 572.31,343.73 573.13,343.39 573.95,343.02 574.78,342.61 575.6,342.18 576.43,341.72 577.25,341.23 578.07,340.7 578.9,340.13 579.72,339.52 580.55,338.88 581.37,338.19 582.19,337.46 583.02,336.68 583.84,335.86 584.67,334.98 585.49,334.06 586.32,333.09 587.14,332.06 587.96,330.99 588.79,329.86 589.61,328.69 590.44,327.46 591.26,326.19 592.08,324.87 592.91,323.5 593.73,322.09 594.56,320.64 595.38,319.16 596.2,317.64 597.03,316.1 597.85,314.54 598.68,312.95 599.5,311.36 600.32,309.75 601.15,308.15 601.97,306.55 602.8,304.96 603.62,303.38 604.44,301.82 605.27,300.29 606.09,298.78 606.92,297.31 607.74,295.88 608.57,294.49 609.39,293.14 610.21,291.83 611.04,290.58 611.86,289.37 612.69,288.21 613.51,287.1 614.33,286.05 615.16,285.05 615.98,284.09 616.81,283.19 617.63,282.33 618.45,281.53 619.28,280.77 620.1,280.05 620.93,279.38 621.75,278.75 622.57,278.16 623.4,277.6 624.22,277.09 625.05,276.6 625.87,276.15 626.69,275.74 627.52,275.35 628.34,274.98 629.17,274.64 629.99,274.33 630.81,274.04 631.64,273.77 632.46,273.52 633.29,273.29 634.11,273.08 634.94,272.88 635.76,272.69 636.58,272.52 637.41,272.37 638.23,272.22 639.06,272.09 639.88,271.96 640.7,271.85 641.53,271.74 642.35,271.65 643.18,271.56 644,271.47"/>
<circle cx="545.11" cy="349.6" r="1.9" fill="#f90a12"/>
<line x1="551.7" y1="349.68" x2="551.7" y2="341.69" stroke="#f90a12" stroke-width="0.6" />
<line x1="550.1" y1="349.68" x2="553.3" y2="349.68" stroke="#f90a12" stroke-width="0.6" />
<line x1="550.1" y1="341.69" x2="553.3" y2="341.69" stroke="#f90a12" stroke-width="0.6" />
<circle cx="551.7" cy="345.69" r="1.9" fill="#f90a12"/>
<line x1="558.3" y1="350.08" x2="558.3" y2="345.29" stroke="#f90a12" stroke-width="0.6" />
<line x1="556.7" y1="350.08" x2="559.9" y2="350.08" stroke="#f90a12" stroke-width="0.6" />
<line x1="556.7" y1="345.29" x2="559.9" y2="345.29" stroke="#f90a12" stroke-width="0.6" />
<circle cx="558.3" cy="347.68" r="1.9" fill="#f90a12"/>
<line x1="564.89" y1="347.36" x2="564.89" y2="340.97" stroke="#f90a12" stroke-width="0.6" />
<line x1="563.29" y1="347.36" x2="566.49" y2="347.36" stroke="#f90a12" stroke-width="0.6" />
<line x1="563.29" y1="340.97" x2="566.49" y2="340.97" stroke="#f90a12" stroke-width="0.6" />
<circle cx="564.89" cy="344.17" r="1.9" fill="#f90a12"/>
<line x1="571.48" y1="345.77" x2="571.48" y2="342.57" stroke="#f90a12" stroke-width="0.6" />
<line x1="569.88" y1="345.77" x2="573.08" y2="345.77" stroke="#f90a12" stroke-width="0.6" />
<line x1="569.88" y1="342.57" x2="573.08" y2="342.57" stroke="#f90a12" stroke-width="0.6" />
<circle cx="571.48" cy="344.17" r="1.9" fill="#f90a12"/>
<line x1="578.07" y1="343.77" x2="578.07" y2="338.97" stroke="#f90a12" stroke-width="0.6" />
<line x1="576.47" y1="343.77" x2="579.67" y2="343.77" stroke="#f90a12" stroke-width="0.6" />
<line x1="576.47" y1="338.97" x2="579.67" y2="338.97" stroke="#f90a12" stroke-width="0.6" />
<circle cx="578.07" cy="341.37" r="1.9" fill="#f90a12"/>
<circle cx="584.67" cy="336.26" r="1.9" fill="#f90a12"/>
<circle cx="591.26" cy="326.03" r="1.9" fill="#f90a12"/>
<circle cx="597.85" cy="313.89" r="1.9" fill="#f90a12"/>
<circle cx="604.44" cy="302.86" r="1.9" fill="#f90a12"/>
<circle cx="611.04" cy="290.32" r="1.9" fill="#f90a12"/>
<circle cx="617.63" cy="284" r="1.9" fill="#f90a12"/>
<circle cx="624.22" cy="276.89" r="1.9" fill="#f90a12"/>
<circle cx="630.81" cy="275.37" r="1.9" fill="#f90a12"/>
<circle cx="637.41" cy="272.58" r="1.9" fill="#f90a12"/>
<circle cx="644" cy="271.78" r="1.9" fill="#f90a12"/>
<rect x="596.3" y="330" width="77.5" height="18.9" fill="#fff" stroke="#000" stroke-width="0.9"/>
<line x1="643.5" y1="330" x2="643.5" y2="348.9" stroke="#000" stroke-width="0.9" />
<line x1="596.3" y1="339.45" x2="673.8" y2="339.45" stroke="#000" stroke-width="0.6" />
<text x="611.6" y="337.25" font-size="7" font-weight="normal" text-anchor="start" fill="#222" >HillSlope</text>
<text x="647.7" y="337.25" font-size="7" font-weight="normal" text-anchor="start" fill="#222" >0.9561</text>
<text x="611.6" y="346.69" font-size="7" font-weight="normal" text-anchor="start" fill="#222" >IC50</text>
<text x="647.7" y="346.69" font-size="7" font-weight="normal" text-anchor="start" fill="#222" >1041</text>
<line x1="38.5" y1="442.4" x2="38.5" y2="522.2" stroke="#000" stroke-width="1.0" />
<line x1="38" y1="521.7" x2="157.3" y2="521.7" stroke="#000" stroke-width="1.0" />
<line x1="38.5" y1="521.7" x2="38.5" y2="524.1" stroke="#000" stroke-width="1.0" />
<text x="38.5" y="532.3" font-size="6.05" font-weight="bold" text-anchor="middle" fill="#000" >0</text>
<line x1="97.65" y1="521.7" x2="97.65" y2="524.1" stroke="#000" stroke-width="1.0" />
<text x="97.65" y="532.3" font-size="6.05" font-weight="bold" text-anchor="middle" fill="#000" >500</text>
<line x1="156.8" y1="521.7" x2="156.8" y2="524.1" stroke="#000" stroke-width="1.0" />
<text x="156.8" y="532.3" font-size="6.05" font-weight="bold" text-anchor="middle" fill="#000" >1000</text>
<line x1="50.33" y1="521.7" x2="50.33" y2="523.3" stroke="#000" stroke-width="1" />
<line x1="62.16" y1="521.7" x2="62.16" y2="523.3" stroke="#000" stroke-width="1" />
<line x1="73.99" y1="521.7" x2="73.99" y2="523.3" stroke="#000" stroke-width="1" />
<line x1="85.82" y1="521.7" x2="85.82" y2="523.3" stroke="#000" stroke-width="1" />
<line x1="109.48" y1="521.7" x2="109.48" y2="523.3" stroke="#000" stroke-width="1" />
<line x1="121.31" y1="521.7" x2="121.31" y2="523.3" stroke="#000" stroke-width="1" />
<line x1="133.14" y1="521.7" x2="133.14" y2="523.3" stroke="#000" stroke-width="1" />
<line x1="144.97" y1="521.7" x2="144.97" y2="523.3" stroke="#000" stroke-width="1" />
<line x1="36.1" y1="521.7" x2="38.5" y2="521.7" stroke="#000" stroke-width="1.0" />
<text x="34.9" y="523.88" font-size="6.05" font-weight="bold" text-anchor="end" fill="#000" >0</text>
<line x1="36.1" y1="505.94" x2="38.5" y2="505.94" stroke="#000" stroke-width="1.0" />
<text x="34.9" y="508.12" font-size="6.05" font-weight="bold" text-anchor="end" fill="#000" >20000</text>
<line x1="36.1" y1="490.18" x2="38.5" y2="490.18" stroke="#000" stroke-width="1.0" />
<text x="34.9" y="492.36" font-size="6.05" font-weight="bold" text-anchor="end" fill="#000" >40000</text>
<line x1="36.1" y1="474.42" x2="38.5" y2="474.42" stroke="#000" stroke-width="1.0" />
<text x="34.9" y="476.6" font-size="6.05" font-weight="bold" text-anchor="end" fill="#000" >60000</text>
<line x1="36.1" y1="458.66" x2="38.5" y2="458.66" stroke="#000" stroke-width="1.0" />
<text x="34.9" y="460.84" font-size="6.05" font-weight="bold" text-anchor="end" fill="#000" >80000</text>
<line x1="36.1" y1="442.9" x2="38.5" y2="442.9" stroke="#000" stroke-width="1.0" />
<text x="34.9" y="445.08" font-size="6.05" font-weight="bold" text-anchor="end" fill="#000" >100000</text>
<text x="97.65" y="541.4" font-size="6.55" font-weight="bold" text-anchor="middle" fill="#000" >RNA template nM</text>
<text transform="translate(9.3 482.3) rotate(-90)" font-size="6.55" font-weight="bold" text-anchor="middle" fill="#000" >Polymerase reaction (RFU)</text>
<polyline fill="none" stroke="#222" stroke-width="0.6" points="38.5,521.7 39.68,517.1 40.87,512.93 42.05,509.12 43.23,505.65 44.41,502.45 45.6,499.51 46.78,496.79 47.96,494.27 49.15,491.92 50.33,489.74 51.51,487.69 52.7,485.78 53.88,483.98 55.06,482.3 56.25,480.71 57.43,479.21 58.61,477.79 59.79,476.44 60.98,475.17 62.16,473.96 63.34,472.81 64.53,471.72 65.71,470.68 66.89,469.69 68.08,468.74 69.26,467.83 70.44,466.96 71.62,466.13 72.81,465.33 73.99,464.57 75.17,463.83 76.36,463.13 77.54,462.45 78.72,461.79 79.91,461.16 81.09,460.55 82.27,459.97 83.45,459.4 84.64,458.86 85.82,458.33 87,457.82 88.19,457.33 89.37,456.85 90.55,456.38 91.73,455.94 92.92,455.5 94.1,455.08 95.28,454.67 96.47,454.27 97.65,453.89 98.83,453.51 100.02,453.15 101.2,452.79 102.38,452.45 103.56,452.11 104.75,451.79 105.93,451.47 107.11,451.16 108.3,450.86 109.48,450.56 110.66,450.28 111.85,450 113.03,449.72 114.21,449.46 115.39,449.2 116.58,448.94 117.76,448.69 118.94,448.45 120.13,448.21 121.31,447.98 122.49,447.76 123.68,447.53 124.86,447.32 126.04,447.1 127.23,446.9 128.41,446.69 129.59,446.49 130.77,446.3 131.96,446.11 133.14,445.92 134.32,445.74 135.51,445.56 136.69,445.38 137.87,445.21 139.06,445.04 140.24,444.87 141.42,444.71 142.6,444.55 143.79,444.39 144.97,444.23 146.15,444.08 147.34,443.93 148.52,443.79 149.7,443.64 150.88,443.5 152.07,443.36 153.25,443.23 154.43,443.09 155.62,442.96 156.8,442.83"/>
<circle cx="42.2" cy="507.52" r="1.9" fill="#000"/>
<circle cx="45.89" cy="497.67" r="1.9" fill="#000"/>
<circle cx="53.29" cy="487.42" r="1.9" fill="#000"/>
<circle cx="68.08" cy="469.69" r="1.9" fill="#000"/>
<circle cx="97.65" cy="458.27" r="1.9" fill="#000"/>
<circle cx="156.8" cy="443.69" r="1.9" fill="#000"/>
<rect x="77.4" y="491.4" width="64.6" height="21.4" fill="#fff" stroke="#000" stroke-width="0.8"/>
<line x1="106.2" y1="491.4" x2="106.2" y2="512.8" stroke="#000" stroke-width="0.8" />
<line x1="77.4" y1="498.53" x2="142" y2="498.53" stroke="#000" stroke-width="0.6" />
<line x1="77.4" y1="505.67" x2="142" y2="505.67" stroke="#000" stroke-width="0.6" />
<text x="88.9" y="504.04" font-size="5.4" font-weight="normal" text-anchor="start" fill="#222" >Vmax</text>
<text x="109.6" y="504.04" font-size="5.4" font-weight="normal" text-anchor="start" fill="#222" >119584</text>
<text x="88.9" y="511.18" font-size="5.4" font-weight="normal" text-anchor="start" fill="#222" >Km</text>
<text x="109.6" y="511.18" font-size="5.4" font-weight="normal" text-anchor="start" fill="#222" >194.8</text>
<line x1="214.5" y1="442.36" x2="214.5" y2="522.2" stroke="#000" stroke-width="1.0" />
<line x1="214" y1="521.7" x2="333.7" y2="521.7" stroke="#000" stroke-width="1.0" />
<line x1="214.5" y1="521.7" x2="214.5" y2="524.1" stroke="#000" stroke-width="1.0" />
<text x="214.5" y="532.3" font-size="6.05" font-weight="bold" text-anchor="middle" fill="#000" >0</text>
<line x1="238.24" y1="521.7" x2="238.24" y2="524.1" stroke="#000" stroke-width="1.0" />
<text x="238.24" y="532.3" font-size="6.05" font-weight="bold" text-anchor="middle" fill="#000" >100</text>
<line x1="261.98" y1="521.7" x2="261.98" y2="524.1" stroke="#000" stroke-width="1.0" />
<text x="261.98" y="532.3" font-size="6.05" font-weight="bold" text-anchor="middle" fill="#000" >200</text>
<line x1="285.72" y1="521.7" x2="285.72" y2="524.1" stroke="#000" stroke-width="1.0" />
<text x="285.72" y="532.3" font-size="6.05" font-weight="bold" text-anchor="middle" fill="#000" >300</text>
<line x1="309.46" y1="521.7" x2="309.46" y2="524.1" stroke="#000" stroke-width="1.0" />
<text x="309.46" y="532.3" font-size="6.05" font-weight="bold" text-anchor="middle" fill="#000" >400</text>
<line x1="333.2" y1="521.7" x2="333.2" y2="524.1" stroke="#000" stroke-width="1.0" />
<text x="333.2" y="532.3" font-size="6.05" font-weight="bold" text-anchor="middle" fill="#000" >500</text>
<line x1="212.1" y1="521.7" x2="214.5" y2="521.7" stroke="#000" stroke-width="1.0" />
<text x="210.9" y="523.88" font-size="6.05" font-weight="bold" text-anchor="end" fill="#000" >0</text>
<line x1="212.1" y1="495.42" x2="214.5" y2="495.42" stroke="#000" stroke-width="1.0" />
<text x="210.9" y="497.6" font-size="6.05" font-weight="bold" text-anchor="end" fill="#000" >50000</text>
<line x1="212.1" y1="469.14" x2="214.5" y2="469.14" stroke="#000" stroke-width="1.0" />
<text x="210.9" y="471.32" font-size="6.05" font-weight="bold" text-anchor="end" fill="#000" >100000</text>
<line x1="212.1" y1="442.86" x2="214.5" y2="442.86" stroke="#000" stroke-width="1.0" />
<text x="210.9" y="445.04" font-size="6.05" font-weight="bold" text-anchor="end" fill="#000" >150000</text>
<text x="273.85" y="541.4" font-size="6.55" font-weight="bold" text-anchor="middle" fill="#000" >ATP µM</text>
<text transform="translate(187.1 482.28) rotate(-90)" font-size="6.55" font-weight="bold" text-anchor="middle" fill="#000" >Polymerase reaction (RFU)</text>
<polyline fill="none" stroke="#222" stroke-width="0.6" points="214.5,521.7 215.69,511.75 216.87,504.45 218.06,498.87 219.25,494.46 220.44,490.89 221.62,487.94 222.81,485.46 224,483.35 225.18,481.53 226.37,479.94 227.56,478.55 228.74,477.32 229.93,476.21 231.12,475.23 232.31,474.33 233.49,473.53 234.68,472.79 235.87,472.11 237.05,471.49 238.24,470.92 239.43,470.4 240.61,469.91 241.8,469.45 242.99,469.03 244.18,468.63 245.36,468.26 246.55,467.91 247.74,467.58 248.92,467.28 250.11,466.98 251.3,466.71 252.48,466.45 253.67,466.2 254.86,465.97 256.05,465.74 257.23,465.53 258.42,465.33 259.61,465.14 260.79,464.95 261.98,464.78 263.17,464.61 264.35,464.45 265.54,464.29 266.73,464.14 267.92,464 269.1,463.86 270.29,463.73 271.48,463.6 272.66,463.48 273.85,463.36 275.04,463.25 276.22,463.14 277.41,463.03 278.6,462.93 279.78,462.83 280.97,462.74 282.16,462.64 283.35,462.55 284.53,462.47 285.72,462.38 286.91,462.3 288.09,462.22 289.28,462.14 290.47,462.07 291.65,462 292.84,461.93 294.03,461.86 295.22,461.79 296.4,461.72 297.59,461.66 298.78,461.6 299.96,461.54 301.15,461.48 302.34,461.42 303.52,461.37 304.71,461.31 305.9,461.26 307.09,461.21 308.27,461.16 309.46,461.11 310.65,461.06 311.83,461.01 313.02,460.97 314.21,460.92 315.39,460.88 316.58,460.83 317.77,460.79 318.96,460.75 320.14,460.71 321.33,460.67 322.52,460.63 323.7,460.59 324.89,460.56 326.08,460.52 327.26,460.49 328.45,460.45 329.64,460.42 330.83,460.38 332.01,460.35 333.2,460.32"/>
<line x1="273.85" y1="469.14" x2="273.85" y2="463.88" stroke="#888" stroke-width="0.6" />
<line x1="272.45" y1="469.14" x2="275.25" y2="469.14" stroke="#888" stroke-width="0.6" />
<line x1="272.45" y1="463.88" x2="275.25" y2="463.88" stroke="#888" stroke-width="0.6" />
<line x1="333.2" y1="461.26" x2="333.2" y2="451.27" stroke="#888" stroke-width="0.6" />
<line x1="331.8" y1="461.26" x2="334.6" y2="461.26" stroke="#888" stroke-width="0.6" />
<line x1="331.8" y1="451.27" x2="334.6" y2="451.27" stroke="#888" stroke-width="0.6" />
<circle cx="215.43" cy="513.29" r="1.9" fill="#000"/>
<circle cx="216.35" cy="508.56" r="1.9" fill="#000"/>
<circle cx="218.2" cy="496.47" r="1.9" fill="#000"/>
<circle cx="221.92" cy="485.96" r="1.9" fill="#000"/>
<circle cx="229.34" cy="479.13" r="1.9" fill="#000"/>
<circle cx="244.18" cy="469.14" r="1.9" fill="#000"/>
<circle cx="273.85" cy="466.51" r="1.9" fill="#000"/>
<circle cx="333.2" cy="456.53" r="1.9" fill="#000"/>
<rect x="257.4" y="491.4" width="67" height="22.4" fill="#fff" stroke="#000" stroke-width="0.8"/>
<line x1="288.2" y1="491.4" x2="288.2" y2="513.8" stroke="#000" stroke-width="0.8" />
<line x1="257.4" y1="498.87" x2="324.4" y2="498.87" stroke="#000" stroke-width="0.6" />
<line x1="257.4" y1="506.33" x2="324.4" y2="506.33" stroke="#000" stroke-width="0.6" />
<text x="269.8" y="504.62" font-size="5.6" font-weight="normal" text-anchor="start" fill="#222" >Vmax</text>
<text x="291.6" y="504.62" font-size="5.6" font-weight="normal" text-anchor="start" fill="#222" >123221</text>
<text x="269.8" y="512.08" font-size="5.6" font-weight="normal" text-anchor="start" fill="#222" >Km</text>
<text x="291.6" y="512.08" font-size="5.6" font-weight="normal" text-anchor="start" fill="#222" >27.55</text>
<text x="489.2" y="426" font-size="12.33" font-weight="bold" text-anchor="middle" fill="#000" >Enzyme linearity at substrate Km</text>
<line x1="387.4" y1="442.3" x2="387.4" y2="522.2" stroke="#000" stroke-width="1.0" />
<line x1="386.9" y1="521.7" x2="506.7" y2="521.7" stroke="#000" stroke-width="1.0" />
<line x1="387.4" y1="521.7" x2="387.4" y2="524.1" stroke="#000" stroke-width="1.0" />
<text x="387.4" y="532.3" font-size="6.05" font-weight="bold" text-anchor="middle" fill="#000" >0</text>
<line x1="407.2" y1="521.7" x2="407.2" y2="524.1" stroke="#000" stroke-width="1.0" />
<text x="407.2" y="532.3" font-size="6.05" font-weight="bold" text-anchor="middle" fill="#000" >30</text>
<line x1="427" y1="521.7" x2="427" y2="524.1" stroke="#000" stroke-width="1.0" />
<text x="427" y="532.3" font-size="6.05" font-weight="bold" text-anchor="middle" fill="#000" >60</text>
<line x1="446.8" y1="521.7" x2="446.8" y2="524.1" stroke="#000" stroke-width="1.0" />
<text x="446.8" y="532.3" font-size="6.05" font-weight="bold" text-anchor="middle" fill="#000" >90</text>
<line x1="466.6" y1="521.7" x2="466.6" y2="524.1" stroke="#000" stroke-width="1.0" />
<text x="466.6" y="532.3" font-size="6.05" font-weight="bold" text-anchor="middle" fill="#000" >120</text>
<line x1="486.4" y1="521.7" x2="486.4" y2="524.1" stroke="#000" stroke-width="1.0" />
<text x="486.4" y="532.3" font-size="6.05" font-weight="bold" text-anchor="middle" fill="#000" >150</text>
<line x1="506.2" y1="521.7" x2="506.2" y2="524.1" stroke="#000" stroke-width="1.0" />
<text x="506.2" y="532.3" font-size="6.05" font-weight="bold" text-anchor="middle" fill="#000" >180</text>
<line x1="394" y1="521.7" x2="394" y2="523.3" stroke="#000" stroke-width="1" />
<line x1="400.6" y1="521.7" x2="400.6" y2="523.3" stroke="#000" stroke-width="1" />
<line x1="413.8" y1="521.7" x2="413.8" y2="523.3" stroke="#000" stroke-width="1" />
<line x1="420.4" y1="521.7" x2="420.4" y2="523.3" stroke="#000" stroke-width="1" />
<line x1="433.6" y1="521.7" x2="433.6" y2="523.3" stroke="#000" stroke-width="1" />
<line x1="440.2" y1="521.7" x2="440.2" y2="523.3" stroke="#000" stroke-width="1" />
<line x1="453.4" y1="521.7" x2="453.4" y2="523.3" stroke="#000" stroke-width="1" />
<line x1="460" y1="521.7" x2="460" y2="523.3" stroke="#000" stroke-width="1" />
<line x1="473.2" y1="521.7" x2="473.2" y2="523.3" stroke="#000" stroke-width="1" />
<line x1="479.8" y1="521.7" x2="479.8" y2="523.3" stroke="#000" stroke-width="1" />
<line x1="493" y1="521.7" x2="493" y2="523.3" stroke="#000" stroke-width="1" />
<line x1="499.6" y1="521.7" x2="499.6" y2="523.3" stroke="#000" stroke-width="1" />
<line x1="385" y1="521.6" x2="387.4" y2="521.6" stroke="#000" stroke-width="1.0" />
<text x="383.8" y="523.78" font-size="6.05" font-weight="bold" text-anchor="end" fill="#000" >0</text>
<line x1="385" y1="505.84" x2="387.4" y2="505.84" stroke="#000" stroke-width="1.0" />
<text x="383.8" y="508.02" font-size="6.05" font-weight="bold" text-anchor="end" fill="#000" >20000</text>
<line x1="385" y1="490.08" x2="387.4" y2="490.08" stroke="#000" stroke-width="1.0" />
<text x="383.8" y="492.26" font-size="6.05" font-weight="bold" text-anchor="end" fill="#000" >40000</text>
<line x1="385" y1="474.32" x2="387.4" y2="474.32" stroke="#000" stroke-width="1.0" />
<text x="383.8" y="476.5" font-size="6.05" font-weight="bold" text-anchor="end" fill="#000" >60000</text>
<line x1="385" y1="458.56" x2="387.4" y2="458.56" stroke="#000" stroke-width="1.0" />
<text x="383.8" y="460.74" font-size="6.05" font-weight="bold" text-anchor="end" fill="#000" >80000</text>
<line x1="385" y1="442.8" x2="387.4" y2="442.8" stroke="#000" stroke-width="1.0" />
<text x="383.8" y="444.98" font-size="6.05" font-weight="bold" text-anchor="end" fill="#000" >100000</text>
<text x="446.8" y="541.4" font-size="6.55" font-weight="bold" text-anchor="middle" fill="#000" >Reaction (min.) at RT</text>
<text transform="translate(359.9 482.4) rotate(-90)" font-size="6.55" font-weight="bold" text-anchor="middle" fill="#000" >Polymerase reaction (RFU)</text>
<polyline fill="none" stroke="#ff7f1e" stroke-width="0.6" points="387.4,519.44 390.7,516.44 394,511.85 397.3,505.76 400.6,499.57 403.9,493.84 407.2,487.71 410.5,481.93 413.8,477.27 417.1,472.17 420.4,466.65 423.7,462.16 427,456.96"/>
<polyline fill="none" stroke="#a020f0" stroke-width="0.6" points="387.4,519.65 390.7,517.55 394,514.39 397.3,510.07 400.6,505.29 403.9,500.96 407.2,496.19 410.5,491.78 413.8,487.8 417.1,482.78 420.4,478.32 423.7,473.95 427,469.57"/>
<polyline fill="none" stroke="#16c116" stroke-width="0.6" points="387.4,519.34 390.7,518.86 394,517.88 397.3,516.26 400.6,514.89 403.9,512.76 407.2,511.2 410.5,508.33 413.8,506.07 417.1,503.13 420.4,500.63 423.7,498.7 427,496.12 430.3,493.8 433.6,490.95 436.9,489.11 440.2,486.7 443.5,484.69 446.8,482.27 450.1,479.61 453.4,476.88 456.7,473.94 460,471.18 463.3,468.17 466.6,465.59 469.9,462.99 473.2,460.64"/>
<polyline fill="none" stroke="#f80c16" stroke-width="0.6" points="387.4,518.22 390.7,518.06 394,518.06 397.3,517.1 400.6,516.61 403.9,516.25 407.2,516.11 410.5,515.26 413.8,514.92 417.1,513.7 420.4,513.16 423.7,512.65 427,512.09 430.3,510.75 433.6,509.92 436.9,509.91 440.2,508.62 443.5,508.21 446.8,507.69 450.1,506.55 453.4,505.16 456.7,504.05 460,503.68 463.3,502.2 466.6,501.63 469.9,500.09 473.2,499.38 476.5,497.94 479.8,496.85 483.1,496.21 486.4,494.81 489.7,494.33 493,493.49 496.3,492.05 499.6,491.47 502.9,490.32 506.2,489.13"/>
<polyline fill="none" stroke="#0a10f0" stroke-width="0.6" points="387.4,519.94 390.7,520.3 394,520.4 397.3,519.75 400.6,520.19 403.9,519.69 407.2,519.75 410.5,520.16 413.8,520.1 417.1,520.06 420.4,519.97 423.7,520.01 427,520.04 430.3,520 433.6,519.76 436.9,519.23 440.2,519.84 443.5,519.38 446.8,520.39 450.1,520.33 453.4,519.8 456.7,520.15 460,520.13 463.3,520.54 466.6,520.22 469.9,520.09 473.2,520.52 476.5,520.05 479.8,520.03 483.1,520.48 486.4,520.03 489.7,520.15 493,519.98 496.3,520.23 499.6,519.95 502.9,519.92 506.2,520.48"/>
<circle cx="387.4" cy="519.94" r="1.5" fill="#0a10f0"/>
<circle cx="390.7" cy="520.3" r="1.5" fill="#0a10f0"/>
<circle cx="394" cy="520.4" r="1.5" fill="#0a10f0"/>
<circle cx="397.3" cy="519.75" r="1.5" fill="#0a10f0"/>
<circle cx="400.6" cy="520.19" r="1.5" fill="#0a10f0"/>
<circle cx="403.9" cy="519.69" r="1.5" fill="#0a10f0"/>
<circle cx="407.2" cy="519.75" r="1.5" fill="#0a10f0"/>
<circle cx="410.5" cy="520.16" r="1.5" fill="#0a10f0"/>
<circle cx="413.8" cy="520.1" r="1.5" fill="#0a10f0"/>
<circle cx="417.1" cy="520.06" r="1.5" fill="#0a10f0"/>
<circle cx="420.4" cy="519.97" r="1.5" fill="#0a10f0"/>
<circle cx="423.7" cy="520.01" r="1.5" fill="#0a10f0"/>
<circle cx="427" cy="520.04" r="1.5" fill="#0a10f0"/>
<circle cx="430.3" cy="520" r="1.5" fill="#0a10f0"/>
<circle cx="433.6" cy="519.76" r="1.5" fill="#0a10f0"/>
<circle cx="436.9" cy="519.23" r="1.5" fill="#0a10f0"/>
<circle cx="440.2" cy="519.84" r="1.5" fill="#0a10f0"/>
<circle cx="443.5" cy="519.38" r="1.5" fill="#0a10f0"/>
<circle cx="446.8" cy="520.39" r="1.5" fill="#0a10f0"/>
<circle cx="450.1" cy="520.33" r="1.5" fill="#0a10f0"/>
<circle cx="453.4" cy="519.8" r="1.5" fill="#0a10f0"/>
<circle cx="456.7" cy="520.15" r="1.5" fill="#0a10f0"/>
<circle cx="460" cy="520.13" r="1.5" fill="#0a10f0"/>
<circle cx="463.3" cy="520.54" r="1.5" fill="#0a10f0"/>
<circle cx="466.6" cy="520.22" r="1.5" fill="#0a10f0"/>
<circle cx="469.9" cy="520.09" r="1.5" fill="#0a10f0"/>
<circle cx="473.2" cy="520.52" r="1.5" fill="#0a10f0"/>
<circle cx="476.5" cy="520.05" r="1.5" fill="#0a10f0"/>
<circle cx="479.8" cy="520.03" r="1.5" fill="#0a10f0"/>
<circle cx="483.1" cy="520.48" r="1.5" fill="#0a10f0"/>
<circle cx="486.4" cy="520.03" r="1.5" fill="#0a10f0"/>
<circle cx="489.7" cy="520.15" r="1.5" fill="#0a10f0"/>
<circle cx="493" cy="519.98" r="1.5" fill="#0a10f0"/>
<circle cx="496.3" cy="520.23" r="1.5" fill="#0a10f0"/>
<circle cx="499.6" cy="519.95" r="1.5" fill="#0a10f0"/>
<circle cx="502.9" cy="519.92" r="1.5" fill="#0a10f0"/>
<circle cx="506.2" cy="520.48" r="1.5" fill="#0a10f0"/>
<rect x="385.9" y="516.72" width="3" height="3" fill="#f80c16"/>
<rect x="389.2" y="516.56" width="3" height="3" fill="#f80c16"/>
<rect x="392.5" y="516.56" width="3" height="3" fill="#f80c16"/>
<rect x="395.8" y="515.6" width="3" height="3" fill="#f80c16"/>
<rect x="399.1" y="515.11" width="3" height="3" fill="#f80c16"/>
<rect x="402.4" y="514.75" width="3" height="3" fill="#f80c16"/>
<rect x="405.7" y="514.61" width="3" height="3" fill="#f80c16"/>
<rect x="409" y="513.76" width="3" height="3" fill="#f80c16"/>
<rect x="412.3" y="513.42" width="3" height="3" fill="#f80c16"/>
<rect x="415.6" y="512.2" width="3" height="3" fill="#f80c16"/>
<rect x="418.9" y="511.66" width="3" height="3" fill="#f80c16"/>
<rect x="422.2" y="511.15" width="3" height="3" fill="#f80c16"/>
<rect x="425.5" y="510.59" width="3" height="3" fill="#f80c16"/>
<rect x="428.8" y="509.25" width="3" height="3" fill="#f80c16"/>
<rect x="432.1" y="508.42" width="3" height="3" fill="#f80c16"/>
<rect x="435.4" y="508.41" width="3" height="3" fill="#f80c16"/>
<rect x="438.7" y="507.12" width="3" height="3" fill="#f80c16"/>
<rect x="442" y="506.71" width="3" height="3" fill="#f80c16"/>
<rect x="445.3" y="506.19" width="3" height="3" fill="#f80c16"/>
<rect x="448.6" y="505.05" width="3" height="3" fill="#f80c16"/>
<rect x="451.9" y="503.66" width="3" height="3" fill="#f80c16"/>
<rect x="455.2" y="502.55" width="3" height="3" fill="#f80c16"/>
<rect x="458.5" y="502.18" width="3" height="3" fill="#f80c16"/>
<rect x="461.8" y="500.7" width="3" height="3" fill="#f80c16"/>
<rect x="465.1" y="500.13" width="3" height="3" fill="#f80c16"/>
<rect x="468.4" y="498.59" width="3" height="3" fill="#f80c16"/>
<rect x="471.7" y="497.88" width="3" height="3" fill="#f80c16"/>
<rect x="475" y="496.44" width="3" height="3" fill="#f80c16"/>
<rect x="478.3" y="495.35" width="3" height="3" fill="#f80c16"/>
<rect x="481.6" y="494.71" width="3" height="3" fill="#f80c16"/>
<rect x="484.9" y="493.31" width="3" height="3" fill="#f80c16"/>
<rect x="488.2" y="492.83" width="3" height="3" fill="#f80c16"/>
<rect x="491.5" y="491.99" width="3" height="3" fill="#f80c16"/>
<rect x="494.8" y="490.55" width="3" height="3" fill="#f80c16"/>
<rect x="498.1" y="489.97" width="3" height="3" fill="#f80c16"/>
<rect x="501.4" y="488.82" width="3" height="3" fill="#f80c16"/>
<rect x="504.7" y="487.63" width="3" height="3" fill="#f80c16"/>
<path d="M385.8 520.62L389 520.62L387.4 517.74Z" fill="#16c116"/>
<path d="M389.1 520.14L392.3 520.14L390.7 517.26Z" fill="#16c116"/>
<path d="M392.4 519.16L395.6 519.16L394 516.28Z" fill="#16c116"/>
<path d="M395.7 517.54L398.9 517.54L397.3 514.66Z" fill="#16c116"/>
<path d="M399 516.17L402.2 516.17L400.6 513.29Z" fill="#16c116"/>
<path d="M402.3 514.04L405.5 514.04L403.9 511.16Z" fill="#16c116"/>
<path d="M405.6 512.48L408.8 512.48L407.2 509.6Z" fill="#16c116"/>
<path d="M408.9 509.61L412.1 509.61L410.5 506.73Z" fill="#16c116"/>
<path d="M412.2 507.35L415.4 507.35L413.8 504.47Z" fill="#16c116"/>
<path d="M415.5 504.41L418.7 504.41L417.1 501.53Z" fill="#16c116"/>
<path d="M418.8 501.91L422 501.91L420.4 499.03Z" fill="#16c116"/>
<path d="M422.1 499.98L425.3 499.98L423.7 497.1Z" fill="#16c116"/>
<path d="M425.4 497.4L428.6 497.4L427 494.52Z" fill="#16c116"/>
<path d="M428.7 495.08L431.9 495.08L430.3 492.2Z" fill="#16c116"/>
<path d="M432 492.23L435.2 492.23L433.6 489.35Z" fill="#16c116"/>
<path d="M435.3 490.39L438.5 490.39L436.9 487.51Z" fill="#16c116"/>
<path d="M438.6 487.98L441.8 487.98L440.2 485.1Z" fill="#16c116"/>
<path d="M441.9 485.97L445.1 485.97L443.5 483.09Z" fill="#16c116"/>
<path d="M445.2 483.55L448.4 483.55L446.8 480.67Z" fill="#16c116"/>
<path d="M448.5 480.89L451.7 480.89L450.1 478.01Z" fill="#16c116"/>
<path d="M451.8 478.16L455 478.16L453.4 475.28Z" fill="#16c116"/>
<path d="M455.1 475.22L458.3 475.22L456.7 472.34Z" fill="#16c116"/>
<path d="M458.4 472.46L461.6 472.46L460 469.58Z" fill="#16c116"/>
<path d="M461.7 469.45L464.9 469.45L463.3 466.57Z" fill="#16c116"/>
<path d="M465 466.87L468.2 466.87L466.6 463.99Z" fill="#16c116"/>
<path d="M468.3 464.27L471.5 464.27L469.9 461.39Z" fill="#16c116"/>
<path d="M471.6 461.92L474.8 461.92L473.2 459.04Z" fill="#16c116"/>
<path d="M385.8 518.37L389 518.37L387.4 521.25Z" fill="#a020f0"/>
<path d="M389.1 516.27L392.3 516.27L390.7 519.15Z" fill="#a020f0"/>
<path d="M392.4 513.11L395.6 513.11L394 515.99Z" fill="#a020f0"/>
<path d="M395.7 508.79L398.9 508.79L397.3 511.67Z" fill="#a020f0"/>
<path d="M399 504.01L402.2 504.01L400.6 506.89Z" fill="#a020f0"/>
<path d="M402.3 499.68L405.5 499.68L403.9 502.56Z" fill="#a020f0"/>
<path d="M405.6 494.91L408.8 494.91L407.2 497.79Z" fill="#a020f0"/>
<path d="M408.9 490.5L412.1 490.5L410.5 493.38Z" fill="#a020f0"/>
<path d="M412.2 486.52L415.4 486.52L413.8 489.4Z" fill="#a020f0"/>
<path d="M415.5 481.5L418.7 481.5L417.1 484.38Z" fill="#a020f0"/>
<path d="M418.8 477.04L422 477.04L420.4 479.92Z" fill="#a020f0"/>
<path d="M422.1 472.67L425.3 472.67L423.7 475.55Z" fill="#a020f0"/>
<path d="M425.4 468.29L428.6 468.29L427 471.17Z" fill="#a020f0"/>
<path d="M385.9 519.44L387.4 517.94L388.9 519.44L387.4 520.94Z" fill="#ff7f1e"/>
<path d="M389.2 516.44L390.7 514.94L392.2 516.44L390.7 517.94Z" fill="#ff7f1e"/>
<path d="M392.5 511.85L394 510.35L395.5 511.85L394 513.35Z" fill="#ff7f1e"/>
<path d="M395.8 505.76L397.3 504.26L398.8 505.76L397.3 507.26Z" fill="#ff7f1e"/>
<path d="M399.1 499.57L400.6 498.07L402.1 499.57L400.6 501.07Z" fill="#ff7f1e"/>
<path d="M402.4 493.84L403.9 492.34L405.4 493.84L403.9 495.34Z" fill="#ff7f1e"/>
<path d="M405.7 487.71L407.2 486.21L408.7 487.71L407.2 489.21Z" fill="#ff7f1e"/>
<path d="M409 481.93L410.5 480.43L412 481.93L410.5 483.43Z" fill="#ff7f1e"/>
<path d="M412.3 477.27L413.8 475.77L415.3 477.27L413.8 478.77Z" fill="#ff7f1e"/>
<path d="M415.6 472.17L417.1 470.67L418.6 472.17L417.1 473.67Z" fill="#ff7f1e"/>
<path d="M418.9 466.65L420.4 465.15L421.9 466.65L420.4 468.15Z" fill="#ff7f1e"/>
<path d="M422.2 462.16L423.7 460.66L425.2 462.16L423.7 463.66Z" fill="#ff7f1e"/>
<path d="M425.5 456.96L427 455.46L428.5 456.96L427 458.46Z" fill="#ff7f1e"/>
<line x1="473.2" y1="463.29" x2="473.2" y2="458.56" stroke="#16c116" stroke-width="0.5" />
<line x1="472" y1="463.29" x2="474.4" y2="463.29" stroke="#16c116" stroke-width="0.5" />
<line x1="472" y1="458.56" x2="474.4" y2="458.56" stroke="#16c116" stroke-width="0.5" />
<line x1="427" y1="458.95" x2="427" y2="455.8" stroke="#ff7f1e" stroke-width="0.5" />
<line x1="425.8" y1="458.95" x2="428.2" y2="458.95" stroke="#ff7f1e" stroke-width="0.5" />
<line x1="425.8" y1="455.8" x2="428.2" y2="455.8" stroke="#ff7f1e" stroke-width="0.5" />
<line x1="523.4" y1="448.2" x2="531.8" y2="448.2" stroke="#0a10f0" stroke-width="0.6" />
<circle cx="527.6" cy="448.2" r="1.7" fill="#0a10f0"/>
<text x="536.7" y="450.3" font-size="6.58" font-weight="normal" text-anchor="start" fill="#222" >NSP7 - NSP8 0 nM</text>
<line x1="523.4" y1="458.78" x2="531.8" y2="458.78" stroke="#f80c16" stroke-width="0.6" />
<rect x="525.9" y="457.08" width="3.4" height="3.4" fill="#f80c16"/>
<text x="536.7" y="460.88" font-size="6.58" font-weight="normal" text-anchor="start" fill="#222" >NSP7 - NSP8 50 nM</text>
<line x1="523.4" y1="469.36" x2="531.8" y2="469.36" stroke="#16c116" stroke-width="0.6" />
<path d="M525.9 470.72L529.3 470.72L527.6 467.66Z" fill="#16c116"/>
<text x="536.7" y="471.46" font-size="6.58" font-weight="normal" text-anchor="start" fill="#222" >NSP7 - NSP8 100 nM</text>
<line x1="523.4" y1="479.94" x2="531.8" y2="479.94" stroke="#a020f0" stroke-width="0.6" />
<path d="M525.9 478.58L529.3 478.58L527.6 481.64Z" fill="#a020f0"/>
<text x="536.7" y="482.04" font-size="6.58" font-weight="normal" text-anchor="start" fill="#222" >NSP7 - NSP8 150 nM</text>
<line x1="523.4" y1="490.52" x2="531.8" y2="490.52" stroke="#ff7f1e" stroke-width="0.6" />
<path d="M525.9 490.52L527.6 488.82L529.3 490.52L527.6 492.22Z" fill="#ff7f1e"/>
<text x="536.7" y="492.62" font-size="6.58" font-weight="normal" text-anchor="start" fill="#222" >NSP7 - NSP8 200 nM</text>
<text x="711.4" y="425.8" font-size="12.39" font-weight="bold" text-anchor="middle" fill="#000" >Potency reference compound</text>
<line x1="635.4" y1="442.5" x2="635.4" y2="522.26" stroke="#000" stroke-width="1.0" />
<line x1="634.9" y1="521.76" x2="754.52" y2="521.76" stroke="#000" stroke-width="1.0" />
<line x1="635.4" y1="521.76" x2="635.4" y2="524.16" stroke="#000" stroke-width="1.0" />
<text x="635.4" y="532.6" font-size="5.85" font-weight="bold" text-anchor="middle" fill="#000" >10<tspan font-size="4" dy="-2.4">0</tspan></text>
<line x1="674.94" y1="521.76" x2="674.94" y2="524.16" stroke="#000" stroke-width="1.0" />
<text x="674.94" y="532.6" font-size="5.85" font-weight="bold" text-anchor="middle" fill="#000" >10<tspan font-size="4" dy="-2.4">2</tspan></text>
<line x1="714.48" y1="521.76" x2="714.48" y2="524.16" stroke="#000" stroke-width="1.0" />
<text x="714.48" y="532.6" font-size="5.85" font-weight="bold" text-anchor="middle" fill="#000" >10<tspan font-size="4" dy="-2.4">4</tspan></text>
<line x1="754.02" y1="521.76" x2="754.02" y2="524.16" stroke="#000" stroke-width="1.0" />
<text x="754.02" y="532.6" font-size="5.85" font-weight="bold" text-anchor="middle" fill="#000" >10<tspan font-size="4" dy="-2.4">6</tspan></text>
<line x1="641.99" y1="521.76" x2="641.99" y2="523.36" stroke="#000" stroke-width="1" />
<line x1="648.58" y1="521.76" x2="648.58" y2="523.36" stroke="#000" stroke-width="1" />
<line x1="655.17" y1="521.76" x2="655.17" y2="523.36" stroke="#000" stroke-width="1" />
<line x1="661.76" y1="521.76" x2="661.76" y2="523.36" stroke="#000" stroke-width="1" />
<line x1="668.35" y1="521.76" x2="668.35" y2="523.36" stroke="#000" stroke-width="1" />
<line x1="681.53" y1="521.76" x2="681.53" y2="523.36" stroke="#000" stroke-width="1" />
<line x1="688.12" y1="521.76" x2="688.12" y2="523.36" stroke="#000" stroke-width="1" />
<line x1="694.71" y1="521.76" x2="694.71" y2="523.36" stroke="#000" stroke-width="1" />
<line x1="701.3" y1="521.76" x2="701.3" y2="523.36" stroke="#000" stroke-width="1" />
<line x1="707.89" y1="521.76" x2="707.89" y2="523.36" stroke="#000" stroke-width="1" />
<line x1="721.07" y1="521.76" x2="721.07" y2="523.36" stroke="#000" stroke-width="1" />
<line x1="727.66" y1="521.76" x2="727.66" y2="523.36" stroke="#000" stroke-width="1" />
<line x1="734.25" y1="521.76" x2="734.25" y2="523.36" stroke="#000" stroke-width="1" />
<line x1="740.84" y1="521.76" x2="740.84" y2="523.36" stroke="#000" stroke-width="1" />
<line x1="747.43" y1="521.76" x2="747.43" y2="523.36" stroke="#000" stroke-width="1" />
<line x1="633" y1="514.6" x2="635.4" y2="514.6" stroke="#000" stroke-width="1.0" />
<text x="631.8" y="516.71" font-size="5.85" font-weight="bold" text-anchor="end" fill="#000" >0</text>
<line x1="633" y1="500.28" x2="635.4" y2="500.28" stroke="#000" stroke-width="1.0" />
<text x="631.8" y="502.39" font-size="5.85" font-weight="bold" text-anchor="end" fill="#000" >20</text>
<line x1="633" y1="485.96" x2="635.4" y2="485.96" stroke="#000" stroke-width="1.0" />
<text x="631.8" y="488.07" font-size="5.85" font-weight="bold" text-anchor="end" fill="#000" >40</text>
<line x1="633" y1="471.64" x2="635.4" y2="471.64" stroke="#000" stroke-width="1.0" />
<text x="631.8" y="473.75" font-size="5.85" font-weight="bold" text-anchor="end" fill="#000" >60</text>
<line x1="633" y1="457.32" x2="635.4" y2="457.32" stroke="#000" stroke-width="1.0" />
<text x="631.8" y="459.43" font-size="5.85" font-weight="bold" text-anchor="end" fill="#000" >80</text>
<line x1="633" y1="443" x2="635.4" y2="443" stroke="#000" stroke-width="1.0" />
<text x="631.8" y="445.11" font-size="5.85" font-weight="bold" text-anchor="end" fill="#000" >100</text>
<text x="694.71" y="541.4" font-size="6.5" font-weight="bold" text-anchor="middle" fill="#000" >GSK-650394 nM</text>
<text transform="translate(618.6 482.38) rotate(-90)" font-size="6.5" font-weight="bold" text-anchor="middle" fill="#000" >% inhibition</text>
<polyline fill="none" stroke="#f90a12" stroke-width="0.6" points="644.98,516.75 645.72,516.75 646.47,516.75 647.21,516.75 647.96,516.75 648.7,516.75 649.44,516.74 650.19,516.74 650.93,516.74 651.67,516.74 652.42,516.74 653.16,516.74 653.91,516.74 654.65,516.74 655.39,516.74 656.14,516.74 656.88,516.74 657.63,516.74 658.37,516.73 659.11,516.73 659.86,516.73 660.6,516.73 661.35,516.73 662.09,516.72 662.83,516.72 663.58,516.72 664.32,516.71 665.07,516.71 665.81,516.7 666.55,516.7 667.3,516.69 668.04,516.68 668.79,516.68 669.53,516.67 670.27,516.66 671.02,516.65 671.76,516.63 672.5,516.62 673.25,516.6 673.99,516.58 674.74,516.56 675.48,516.54 676.22,516.51 676.97,516.48 677.71,516.45 678.46,516.41 679.2,516.37 679.94,516.32 680.69,516.26 681.43,516.2 682.18,516.13 682.92,516.06 683.66,515.97 684.41,515.87 685.15,515.76 685.9,515.64 686.64,515.5 687.38,515.34 688.13,515.17 688.87,514.97 689.61,514.75 690.36,514.5 691.1,514.23 691.85,513.92 692.59,513.58 693.33,513.2 694.08,512.77 694.82,512.3 695.57,511.77 696.31,511.19 697.05,510.54 697.8,509.83 698.54,509.05 699.29,508.19 700.03,507.26 700.77,506.23 701.52,505.12 702.26,503.92 703.01,502.62 703.75,501.23 704.49,499.74 705.24,498.16 705.98,496.49 706.72,494.74 707.47,492.91 708.21,491.01 708.96,489.05 709.7,487.05 710.44,485.01 711.19,482.96 711.93,480.9 712.68,478.85 713.42,476.83 714.16,474.85 714.91,472.92 715.65,471.05 716.4,469.25 717.14,467.53 717.88,465.9 718.63,464.36 719.37,462.91 720.12,461.56 720.86,460.31 721.6,459.14 722.35,458.07 723.09,457.08 723.84,456.18 724.58,455.36 725.32,454.61 726.07,453.93 726.81,453.31 727.55,452.75 728.3,452.25 729.04,451.8 729.79,451.39 730.53,451.03 731.27,450.7 732.02,450.41 732.76,450.14 733.51,449.91 734.25,449.7"/>
<line x1="644.98" y1="517.46" x2="644.98" y2="511.74" stroke="#f90a12" stroke-width="0.6" />
<line x1="643.38" y1="517.46" x2="646.58" y2="517.46" stroke="#f90a12" stroke-width="0.6" />
<line x1="643.38" y1="511.74" x2="646.58" y2="511.74" stroke="#f90a12" stroke-width="0.6" />
<circle cx="644.98" cy="514.6" r="1.9" fill="#f90a12"/>
<line x1="650.93" y1="519.83" x2="650.93" y2="516.96" stroke="#f90a12" stroke-width="0.6" />
<line x1="649.33" y1="519.83" x2="652.53" y2="519.83" stroke="#f90a12" stroke-width="0.6" />
<line x1="649.33" y1="516.96" x2="652.53" y2="516.96" stroke="#f90a12" stroke-width="0.6" />
<circle cx="650.93" cy="518.39" r="1.9" fill="#f90a12"/>
<line x1="656.88" y1="517.68" x2="656.88" y2="514.81" stroke="#f90a12" stroke-width="0.6" />
<line x1="655.28" y1="517.68" x2="658.48" y2="517.68" stroke="#f90a12" stroke-width="0.6" />
<line x1="655.28" y1="514.81" x2="658.48" y2="514.81" stroke="#f90a12" stroke-width="0.6" />
<circle cx="656.88" cy="516.25" r="1.9" fill="#f90a12"/>
<circle cx="662.83" cy="519.18" r="1.9" fill="#f90a12"/>
<line x1="668.79" y1="518.39" x2="668.79" y2="514.1" stroke="#f90a12" stroke-width="0.6" />
<line x1="667.19" y1="518.39" x2="670.39" y2="518.39" stroke="#f90a12" stroke-width="0.6" />
<line x1="667.19" y1="514.1" x2="670.39" y2="514.1" stroke="#f90a12" stroke-width="0.6" />
<circle cx="668.79" cy="516.25" r="1.9" fill="#f90a12"/>
<circle cx="674.74" cy="516.25" r="1.9" fill="#f90a12"/>
<circle cx="680.69" cy="516.46" r="1.9" fill="#f90a12"/>
<line x1="686.64" y1="518.54" x2="686.64" y2="512.81" stroke="#f90a12" stroke-width="0.6" />
<line x1="685.04" y1="518.54" x2="688.24" y2="518.54" stroke="#f90a12" stroke-width="0.6" />
<line x1="685.04" y1="512.81" x2="688.24" y2="512.81" stroke="#f90a12" stroke-width="0.6" />
<circle cx="686.64" cy="515.67" r="1.9" fill="#f90a12"/>
<line x1="692.59" y1="520.69" x2="692.59" y2="514.96" stroke="#f90a12" stroke-width="0.6" />
<line x1="690.99" y1="520.69" x2="694.19" y2="520.69" stroke="#f90a12" stroke-width="0.6" />
<line x1="690.99" y1="514.96" x2="694.19" y2="514.96" stroke="#f90a12" stroke-width="0.6" />
<circle cx="692.59" cy="517.82" r="1.9" fill="#f90a12"/>
<line x1="698.54" y1="513.1" x2="698.54" y2="507.37" stroke="#f90a12" stroke-width="0.6" />
<line x1="696.94" y1="513.1" x2="700.14" y2="513.1" stroke="#f90a12" stroke-width="0.6" />
<line x1="696.94" y1="507.37" x2="700.14" y2="507.37" stroke="#f90a12" stroke-width="0.6" />
<circle cx="698.54" cy="510.23" r="1.9" fill="#f90a12"/>
<line x1="704.49" y1="502.43" x2="704.49" y2="498.13" stroke="#f90a12" stroke-width="0.6" />
<line x1="702.89" y1="502.43" x2="706.09" y2="502.43" stroke="#f90a12" stroke-width="0.6" />
<line x1="702.89" y1="498.13" x2="706.09" y2="498.13" stroke="#f90a12" stroke-width="0.6" />
<circle cx="704.49" cy="500.28" r="1.9" fill="#f90a12"/>
<circle cx="710.44" cy="479.37" r="1.9" fill="#f90a12"/>
<line x1="716.4" y1="479.09" x2="716.4" y2="470.49" stroke="#f90a12" stroke-width="0.6" />
<line x1="714.8" y1="479.09" x2="718" y2="479.09" stroke="#f90a12" stroke-width="0.6" />
<line x1="714.8" y1="470.49" x2="718" y2="470.49" stroke="#f90a12" stroke-width="0.6" />
<circle cx="716.4" cy="474.79" r="1.9" fill="#f90a12"/>
<line x1="722.35" y1="457.18" x2="722.35" y2="452.88" stroke="#f90a12" stroke-width="0.6" />
<line x1="720.75" y1="457.18" x2="723.95" y2="457.18" stroke="#f90a12" stroke-width="0.6" />
<line x1="720.75" y1="452.88" x2="723.95" y2="452.88" stroke="#f90a12" stroke-width="0.6" />
<circle cx="722.35" cy="455.03" r="1.9" fill="#f90a12"/>
<circle cx="728.3" cy="448.51" r="1.9" fill="#f90a12"/>
<circle cx="734.25" cy="449.87" r="1.9" fill="#f90a12"/>
<rect x="718.1" y="488.2" width="56.5" height="14.4" fill="#fff" stroke="#000" stroke-width="0.9"/>
<line x1="754" y1="488.2" x2="754" y2="502.6" stroke="#000" stroke-width="0.9" />
<line x1="718.1" y1="495.4" x2="774.6" y2="495.4" stroke="#000" stroke-width="0.6" />
<text x="728.6" y="493.46" font-size="4.6" font-weight="normal" text-anchor="start" fill="#222" >HillSlope</text>
<text x="757.4" y="493.46" font-size="4.6" font-weight="normal" text-anchor="start" fill="#222" >1.383</text>
<text x="728.6" y="500.66" font-size="4.6" font-weight="normal" text-anchor="start" fill="#222" >IC50</text>
<text x="757.4" y="500.66" font-size="4.6" font-weight="normal" text-anchor="start" fill="#222" >6984</text>
</svg></body></html>
